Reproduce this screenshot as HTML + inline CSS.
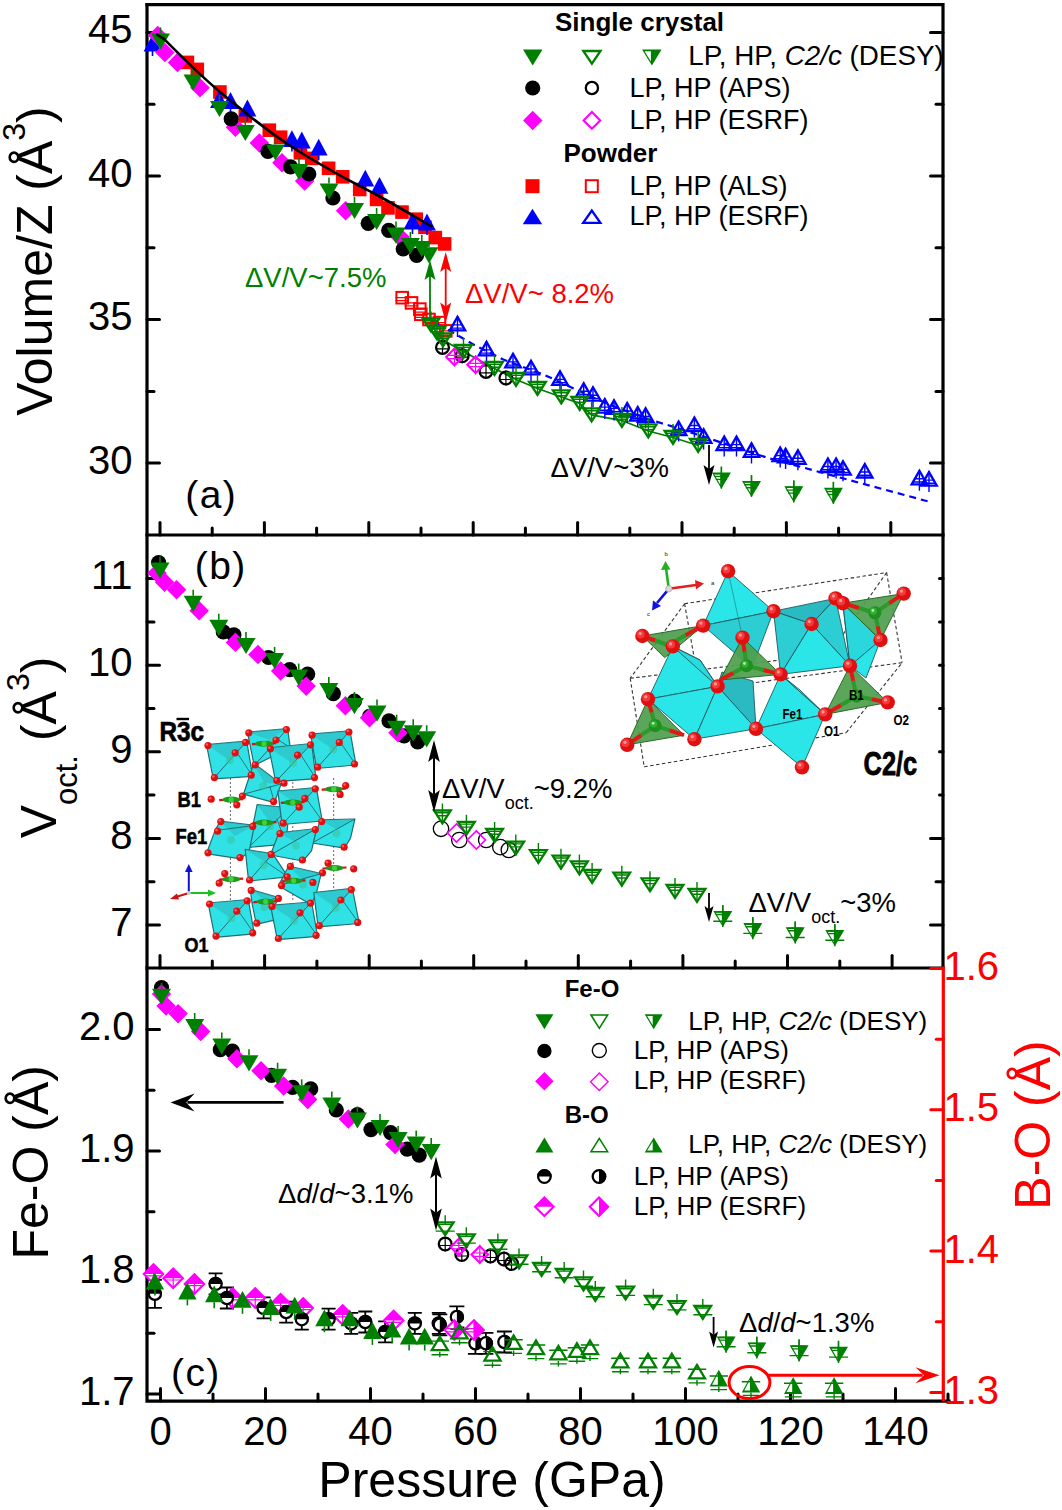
<!DOCTYPE html>
<html><head><meta charset="utf-8"><style>
html,body{margin:0;padding:0;background:#fff;}
body{width:1062px;height:1510px;overflow:hidden;font-family:"Liberation Sans",sans-serif;}
svg{display:block;}
</style></head><body>
<svg width="1062" height="1510" viewBox="0 0 1062 1510" font-family="Liberation Sans, sans-serif">
<rect width="1062" height="1510" fill="#fff"/>
<g stroke="#000000" stroke-width="3.2" fill="none" stroke-linecap="square">
<path d="M147 4.6H943V968"/>
<path d="M147 4.6V1401.2H949"/>
<path d="M147 535H943M147 968H943"/>
</g>
<line x1="943.3" y1="966.5" x2="943.3" y2="1401" stroke="#ff0000" stroke-width="3.2"/>
<line x1="147" y1="32.6" x2="159.5" y2="32.6" stroke="#000000" stroke-width="3" stroke-linecap="round"/><line x1="147" y1="176.1" x2="159.5" y2="176.1" stroke="#000000" stroke-width="3" stroke-linecap="round"/><line x1="147" y1="319.6" x2="159.5" y2="319.6" stroke="#000000" stroke-width="3" stroke-linecap="round"/><line x1="147" y1="463.1" x2="159.5" y2="463.1" stroke="#000000" stroke-width="3" stroke-linecap="round"/>
<line x1="147" y1="104.3" x2="154" y2="104.3" stroke="#000000" stroke-width="3" stroke-linecap="round"/><line x1="147" y1="247.8" x2="154" y2="247.8" stroke="#000000" stroke-width="3" stroke-linecap="round"/><line x1="147" y1="391.4" x2="154" y2="391.4" stroke="#000000" stroke-width="3" stroke-linecap="round"/>
<line x1="943" y1="32.6" x2="930.5" y2="32.6" stroke="#000000" stroke-width="3" stroke-linecap="round"/><line x1="943" y1="176.1" x2="930.5" y2="176.1" stroke="#000000" stroke-width="3" stroke-linecap="round"/><line x1="943" y1="319.6" x2="930.5" y2="319.6" stroke="#000000" stroke-width="3" stroke-linecap="round"/><line x1="943" y1="463.1" x2="930.5" y2="463.1" stroke="#000000" stroke-width="3" stroke-linecap="round"/>
<line x1="943" y1="104.3" x2="936" y2="104.3" stroke="#000000" stroke-width="3" stroke-linecap="round"/><line x1="943" y1="247.8" x2="936" y2="247.8" stroke="#000000" stroke-width="3" stroke-linecap="round"/><line x1="943" y1="391.4" x2="936" y2="391.4" stroke="#000000" stroke-width="3" stroke-linecap="round"/>
<line x1="160" y1="535" x2="160" y2="522.5" stroke="#000000" stroke-width="3" stroke-linecap="round"/><line x1="264.4" y1="535" x2="264.4" y2="522.5" stroke="#000000" stroke-width="3" stroke-linecap="round"/><line x1="368.8" y1="535" x2="368.8" y2="522.5" stroke="#000000" stroke-width="3" stroke-linecap="round"/><line x1="473.2" y1="535" x2="473.2" y2="522.5" stroke="#000000" stroke-width="3" stroke-linecap="round"/><line x1="577.6" y1="535" x2="577.6" y2="522.5" stroke="#000000" stroke-width="3" stroke-linecap="round"/><line x1="682" y1="535" x2="682" y2="522.5" stroke="#000000" stroke-width="3" stroke-linecap="round"/><line x1="786.4" y1="535" x2="786.4" y2="522.5" stroke="#000000" stroke-width="3" stroke-linecap="round"/><line x1="890.8" y1="535" x2="890.8" y2="522.5" stroke="#000000" stroke-width="3" stroke-linecap="round"/>
<line x1="212.2" y1="535" x2="212.2" y2="528" stroke="#000000" stroke-width="3" stroke-linecap="round"/><line x1="316.6" y1="535" x2="316.6" y2="528" stroke="#000000" stroke-width="3" stroke-linecap="round"/><line x1="421" y1="535" x2="421" y2="528" stroke="#000000" stroke-width="3" stroke-linecap="round"/><line x1="525.4" y1="535" x2="525.4" y2="528" stroke="#000000" stroke-width="3" stroke-linecap="round"/><line x1="629.8" y1="535" x2="629.8" y2="528" stroke="#000000" stroke-width="3" stroke-linecap="round"/><line x1="734.2" y1="535" x2="734.2" y2="528" stroke="#000000" stroke-width="3" stroke-linecap="round"/><line x1="838.6" y1="535" x2="838.6" y2="528" stroke="#000000" stroke-width="3" stroke-linecap="round"/>
<line x1="147" y1="578.6" x2="159.5" y2="578.6" stroke="#000000" stroke-width="3" stroke-linecap="round"/><line x1="147" y1="665.2" x2="159.5" y2="665.2" stroke="#000000" stroke-width="3" stroke-linecap="round"/><line x1="147" y1="751.8" x2="159.5" y2="751.8" stroke="#000000" stroke-width="3" stroke-linecap="round"/><line x1="147" y1="838.4" x2="159.5" y2="838.4" stroke="#000000" stroke-width="3" stroke-linecap="round"/><line x1="147" y1="925" x2="159.5" y2="925" stroke="#000000" stroke-width="3" stroke-linecap="round"/>
<line x1="147" y1="621.9" x2="154" y2="621.9" stroke="#000000" stroke-width="3" stroke-linecap="round"/><line x1="147" y1="708.5" x2="154" y2="708.5" stroke="#000000" stroke-width="3" stroke-linecap="round"/><line x1="147" y1="795.1" x2="154" y2="795.1" stroke="#000000" stroke-width="3" stroke-linecap="round"/><line x1="147" y1="881.7" x2="154" y2="881.7" stroke="#000000" stroke-width="3" stroke-linecap="round"/>
<line x1="943" y1="838.4" x2="930.5" y2="838.4" stroke="#000000" stroke-width="3" stroke-linecap="round"/><line x1="943" y1="925" x2="930.5" y2="925" stroke="#000000" stroke-width="3" stroke-linecap="round"/>
<line x1="943" y1="881.7" x2="936" y2="881.7" stroke="#000000" stroke-width="3" stroke-linecap="round"/>
<line x1="943" y1="578.6" x2="939.5" y2="578.6" stroke="#000000" stroke-width="3" stroke-linecap="round"/><line x1="943" y1="621.9" x2="939.5" y2="621.9" stroke="#000000" stroke-width="3" stroke-linecap="round"/><line x1="943" y1="665.2" x2="939.5" y2="665.2" stroke="#000000" stroke-width="3" stroke-linecap="round"/><line x1="943" y1="708.5" x2="939.5" y2="708.5" stroke="#000000" stroke-width="3" stroke-linecap="round"/><line x1="943" y1="751.8" x2="939.5" y2="751.8" stroke="#000000" stroke-width="3" stroke-linecap="round"/><line x1="943" y1="795.1" x2="939.5" y2="795.1" stroke="#000000" stroke-width="3" stroke-linecap="round"/>
<line x1="160" y1="968" x2="160" y2="955.5" stroke="#000000" stroke-width="3" stroke-linecap="round"/><line x1="264.6" y1="968" x2="264.6" y2="955.5" stroke="#000000" stroke-width="3" stroke-linecap="round"/><line x1="369.2" y1="968" x2="369.2" y2="955.5" stroke="#000000" stroke-width="3" stroke-linecap="round"/><line x1="473.7" y1="968" x2="473.7" y2="955.5" stroke="#000000" stroke-width="3" stroke-linecap="round"/><line x1="578.3" y1="968" x2="578.3" y2="955.5" stroke="#000000" stroke-width="3" stroke-linecap="round"/><line x1="682.9" y1="968" x2="682.9" y2="955.5" stroke="#000000" stroke-width="3" stroke-linecap="round"/><line x1="787.5" y1="968" x2="787.5" y2="955.5" stroke="#000000" stroke-width="3" stroke-linecap="round"/><line x1="892.1" y1="968" x2="892.1" y2="955.5" stroke="#000000" stroke-width="3" stroke-linecap="round"/>
<line x1="212.3" y1="968" x2="212.3" y2="961" stroke="#000000" stroke-width="3" stroke-linecap="round"/><line x1="316.9" y1="968" x2="316.9" y2="961" stroke="#000000" stroke-width="3" stroke-linecap="round"/><line x1="421.4" y1="968" x2="421.4" y2="961" stroke="#000000" stroke-width="3" stroke-linecap="round"/><line x1="526" y1="968" x2="526" y2="961" stroke="#000000" stroke-width="3" stroke-linecap="round"/><line x1="630.6" y1="968" x2="630.6" y2="961" stroke="#000000" stroke-width="3" stroke-linecap="round"/><line x1="735.2" y1="968" x2="735.2" y2="961" stroke="#000000" stroke-width="3" stroke-linecap="round"/><line x1="839.8" y1="968" x2="839.8" y2="961" stroke="#000000" stroke-width="3" stroke-linecap="round"/>
<line x1="147" y1="1029.5" x2="159.5" y2="1029.5" stroke="#000000" stroke-width="3" stroke-linecap="round"/><line x1="147" y1="1151" x2="159.5" y2="1151" stroke="#000000" stroke-width="3" stroke-linecap="round"/><line x1="147" y1="1272.5" x2="159.5" y2="1272.5" stroke="#000000" stroke-width="3" stroke-linecap="round"/><line x1="147" y1="1394" x2="159.5" y2="1394" stroke="#000000" stroke-width="3" stroke-linecap="round"/>
<line x1="147" y1="1090.2" x2="154" y2="1090.2" stroke="#000000" stroke-width="3" stroke-linecap="round"/><line x1="147" y1="1211.8" x2="154" y2="1211.8" stroke="#000000" stroke-width="3" stroke-linecap="round"/><line x1="147" y1="1333.2" x2="154" y2="1333.2" stroke="#000000" stroke-width="3" stroke-linecap="round"/>
<line x1="943.3" y1="968.5" x2="930.8" y2="968.5" stroke="#ff0000" stroke-width="3" stroke-linecap="round"/><line x1="943.3" y1="1109.8" x2="930.8" y2="1109.8" stroke="#ff0000" stroke-width="3" stroke-linecap="round"/><line x1="943.3" y1="1251.1" x2="930.8" y2="1251.1" stroke="#ff0000" stroke-width="3" stroke-linecap="round"/><line x1="943.3" y1="1392.4" x2="930.8" y2="1392.4" stroke="#ff0000" stroke-width="3" stroke-linecap="round"/>
<line x1="943.3" y1="1039.2" x2="936.3" y2="1039.2" stroke="#ff0000" stroke-width="3" stroke-linecap="round"/><line x1="943.3" y1="1180.5" x2="936.3" y2="1180.5" stroke="#ff0000" stroke-width="3" stroke-linecap="round"/><line x1="943.3" y1="1321.8" x2="936.3" y2="1321.8" stroke="#ff0000" stroke-width="3" stroke-linecap="round"/>
<line x1="160.5" y1="1401" x2="160.5" y2="1388.5" stroke="#000000" stroke-width="3" stroke-linecap="round"/><line x1="265.5" y1="1401" x2="265.5" y2="1388.5" stroke="#000000" stroke-width="3" stroke-linecap="round"/><line x1="370.5" y1="1401" x2="370.5" y2="1388.5" stroke="#000000" stroke-width="3" stroke-linecap="round"/><line x1="475.5" y1="1401" x2="475.5" y2="1388.5" stroke="#000000" stroke-width="3" stroke-linecap="round"/><line x1="580.5" y1="1401" x2="580.5" y2="1388.5" stroke="#000000" stroke-width="3" stroke-linecap="round"/><line x1="685.5" y1="1401" x2="685.5" y2="1388.5" stroke="#000000" stroke-width="3" stroke-linecap="round"/><line x1="790.5" y1="1401" x2="790.5" y2="1388.5" stroke="#000000" stroke-width="3" stroke-linecap="round"/><line x1="895.5" y1="1401" x2="895.5" y2="1388.5" stroke="#000000" stroke-width="3" stroke-linecap="round"/>
<line x1="213" y1="1401" x2="213" y2="1394" stroke="#000000" stroke-width="3" stroke-linecap="round"/><line x1="318" y1="1401" x2="318" y2="1394" stroke="#000000" stroke-width="3" stroke-linecap="round"/><line x1="423" y1="1401" x2="423" y2="1394" stroke="#000000" stroke-width="3" stroke-linecap="round"/><line x1="528" y1="1401" x2="528" y2="1394" stroke="#000000" stroke-width="3" stroke-linecap="round"/><line x1="633" y1="1401" x2="633" y2="1394" stroke="#000000" stroke-width="3" stroke-linecap="round"/><line x1="738" y1="1401" x2="738" y2="1394" stroke="#000000" stroke-width="3" stroke-linecap="round"/><line x1="843" y1="1401" x2="843" y2="1394" stroke="#000000" stroke-width="3" stroke-linecap="round"/><line x1="948" y1="1401" x2="948" y2="1394" stroke="#000000" stroke-width="3" stroke-linecap="round"/>
<g font-family="Liberation Sans, sans-serif" font-size="40">
<text x="132.5" y="43.4" font-size="40" fill="#000000" text-anchor="end" font-weight="normal" >45</text>
<text x="132.5" y="186.9" font-size="40" fill="#000000" text-anchor="end" font-weight="normal" >40</text>
<text x="132.5" y="330.4" font-size="40" fill="#000000" text-anchor="end" font-weight="normal" >35</text>
<text x="132.5" y="473.9" font-size="40" fill="#000000" text-anchor="end" font-weight="normal" >30</text>
<text x="132.5" y="589.4" font-size="40" fill="#000000" text-anchor="end" font-weight="normal" >11</text>
<text x="132.5" y="676" font-size="40" fill="#000000" text-anchor="end" font-weight="normal" >10</text>
<text x="132.5" y="762.6" font-size="40" fill="#000000" text-anchor="end" font-weight="normal" >9</text>
<text x="132.5" y="849.2" font-size="40" fill="#000000" text-anchor="end" font-weight="normal" >8</text>
<text x="132.5" y="935.8" font-size="40" fill="#000000" text-anchor="end" font-weight="normal" >7</text>
<text x="134.5" y="1040" font-size="40" fill="#000000" text-anchor="end" font-weight="normal" >2.0</text>
<text x="134.5" y="1161.5" font-size="40" fill="#000000" text-anchor="end" font-weight="normal" >1.9</text>
<text x="134.5" y="1283" font-size="40" fill="#000000" text-anchor="end" font-weight="normal" >1.8</text>
<text x="134.5" y="1404.5" font-size="40" fill="#000000" text-anchor="end" font-weight="normal" >1.7</text>
<text x="943.5" y="980" font-size="40" fill="#ff0000" text-anchor="start" font-weight="normal" >1.6</text>
<text x="943.5" y="1121.3" font-size="40" fill="#ff0000" text-anchor="start" font-weight="normal" >1.5</text>
<text x="943.5" y="1262.6" font-size="40" fill="#ff0000" text-anchor="start" font-weight="normal" >1.4</text>
<text x="943.5" y="1403.9" font-size="40" fill="#ff0000" text-anchor="start" font-weight="normal" >1.3</text>
<text x="160.5" y="1445" font-size="40" fill="#000000" text-anchor="middle" font-weight="normal" >0</text>
<text x="265.5" y="1445" font-size="40" fill="#000000" text-anchor="middle" font-weight="normal" >20</text>
<text x="370.5" y="1445" font-size="40" fill="#000000" text-anchor="middle" font-weight="normal" >40</text>
<text x="475.5" y="1445" font-size="40" fill="#000000" text-anchor="middle" font-weight="normal" >60</text>
<text x="580.5" y="1445" font-size="40" fill="#000000" text-anchor="middle" font-weight="normal" >80</text>
<text x="685.5" y="1445" font-size="40" fill="#000000" text-anchor="middle" font-weight="normal" >100</text>
<text x="790.5" y="1445" font-size="40" fill="#000000" text-anchor="middle" font-weight="normal" >120</text>
<text x="895.5" y="1445" font-size="40" fill="#000000" text-anchor="middle" font-weight="normal" >140</text>
</g>
<g font-family="Liberation Sans, sans-serif">
<text transform="translate(51.5,261) rotate(-90)" font-size="50" text-anchor="middle">Volume/Z (Å<tspan dy="-27" font-size="32">3</tspan><tspan dy="27">)</tspan></text>
<text transform="translate(56,747.5) rotate(-90)" font-size="50" text-anchor="middle">V<tspan dy="21" font-size="31">oct.</tspan><tspan dy="-21"> (Å</tspan><tspan dy="-27" font-size="32">3</tspan><tspan dy="27">)</tspan></text>
<text transform="translate(48.3,1162.3) rotate(-90)" font-size="50" text-anchor="middle">Fe-O (Å)</text>
<text transform="translate(1050,1125) rotate(-90)" font-size="50" text-anchor="middle" fill="#ff0000">B-O (Å)</text>
<text x="492" y="1496.5" font-size="50" text-anchor="middle">Pressure (GPa)</text>
</g>
<polyline points="427,318 440,325 474.3,345 503.3,359.5 545.5,375.4 577,390 608.7,404.4 651,420 677.3,428 769,458.3 930.3,502" fill="none" stroke="#0000ff" stroke-width="2.2" stroke-dasharray="7,5"/>
<polyline points="431,325 437,333 443,340 463.5,351.5 494.5,368.5 516,379.5 537.5,388.5 561.3,397 579.7,403.5 591.6,415 621.9,420.5 648.3,431 673,437.5 698.2,445.5" fill="none" stroke="#008000" stroke-width="1.8"/>
<rect x="180.6" y="55.6" width="13.6" height="13.6" fill="#ff0000"/>
<rect x="190.5" y="62.6" width="13.6" height="13.6" fill="#ff0000"/>
<rect x="213.1" y="85.2" width="13.6" height="13.6" fill="#ff0000"/>
<rect x="238.5" y="109.2" width="13.6" height="13.6" fill="#ff0000"/>
<rect x="262.5" y="123.4" width="13.6" height="13.6" fill="#ff0000"/>
<rect x="273.8" y="130.4" width="13.6" height="13.6" fill="#ff0000"/>
<rect x="293.6" y="146" width="13.6" height="13.6" fill="#ff0000"/>
<rect x="304.9" y="151.6" width="13.6" height="13.6" fill="#ff0000"/>
<rect x="321.8" y="161.5" width="13.6" height="13.6" fill="#ff0000"/>
<rect x="335.9" y="170" width="13.6" height="13.6" fill="#ff0000"/>
<rect x="352.9" y="182.7" width="13.6" height="13.6" fill="#ff0000"/>
<rect x="369.8" y="192.6" width="13.6" height="13.6" fill="#ff0000"/>
<rect x="381.2" y="201.1" width="13.6" height="13.6" fill="#ff0000"/>
<rect x="395.2" y="205.3" width="13.6" height="13.6" fill="#ff0000"/>
<rect x="409.4" y="212.4" width="13.6" height="13.6" fill="#ff0000"/>
<rect x="418.2" y="220.5" width="13.6" height="13.6" fill="#ff0000"/>
<rect x="428.5" y="230.8" width="13.6" height="13.6" fill="#ff0000"/>
<rect x="437.8" y="237.1" width="13.6" height="13.6" fill="#ff0000"/>
<polygon points="143.6,51.4 161.4,51.4 152.5,34.6" fill="#0000ff"/><line x1="152.5" y1="51" x2="152.5" y2="56" stroke="#0000ff" stroke-width="1.6"/>
<polygon points="210.1,107.9 227.9,107.9 219,91.1" fill="#0000ff"/><line x1="219" y1="107.5" x2="219" y2="112.5" stroke="#0000ff" stroke-width="1.6"/>
<polygon points="221.6,108.9 239.4,108.9 230.5,92.1" fill="#0000ff"/><line x1="230.5" y1="108.5" x2="230.5" y2="113.5" stroke="#0000ff" stroke-width="1.6"/>
<polygon points="238.5,116.4 256.3,116.4 247.4,99.6" fill="#0000ff"/><line x1="247.4" y1="116" x2="247.4" y2="121" stroke="#0000ff" stroke-width="1.6"/>
<polygon points="283,147 300.8,147 291.9,130.2" fill="#0000ff"/><line x1="291.9" y1="146.6" x2="291.9" y2="151.6" stroke="#0000ff" stroke-width="1.6"/>
<polygon points="292.9,148.4 310.7,148.4 301.8,131.6" fill="#0000ff"/><line x1="301.8" y1="148" x2="301.8" y2="153" stroke="#0000ff" stroke-width="1.6"/>
<polygon points="309.8,155.5 327.6,155.5 318.7,138.7" fill="#0000ff"/><line x1="318.7" y1="155.1" x2="318.7" y2="160.1" stroke="#0000ff" stroke-width="1.6"/>
<polygon points="356.4,186.6 374.2,186.6 365.3,169.8" fill="#0000ff"/><line x1="365.3" y1="186.2" x2="365.3" y2="191.2" stroke="#0000ff" stroke-width="1.6"/>
<polygon points="370.6,193.7 388.4,193.7 379.5,176.9" fill="#0000ff"/><line x1="379.5" y1="193.3" x2="379.5" y2="198.3" stroke="#0000ff" stroke-width="1.6"/>
<polygon points="403.6,229.4 421.4,229.4 412.5,212.6" fill="#0000ff"/><line x1="412.5" y1="229" x2="412.5" y2="234" stroke="#0000ff" stroke-width="1.6"/>
<polygon points="418.1,230.4 435.9,230.4 427,213.6" fill="#0000ff"/><line x1="427" y1="230" x2="427" y2="235" stroke="#0000ff" stroke-width="1.6"/>
<polygon points="157.7,25.8 167.4,35.5 157.7,45.2 147.9,35.5" fill="#ff00ff"/>
<polygon points="164.8,42.8 174.6,52.5 164.8,62.2 155.1,52.5" fill="#ff00ff"/>
<polygon points="177.5,52.6 187.2,62.4 177.5,72.2 167.8,62.4" fill="#ff00ff"/>
<polygon points="200,78 209.8,87.8 200,97.5 190.2,87.8" fill="#ff00ff"/>
<polygon points="235.4,117.5 245.2,127.3 235.4,137.1 225.7,127.3" fill="#ff00ff"/>
<polygon points="259.4,133.2 269.1,142.9 259.4,152.7 249.6,142.9" fill="#ff00ff"/>
<polygon points="282,152.9 291.8,162.7 282,172.4 272.2,162.7" fill="#ff00ff"/>
<polygon points="304.6,171.2 314.4,181 304.6,190.8 294.9,181" fill="#ff00ff"/>
<polygon points="345.6,200.9 355.4,210.7 345.6,220.4 335.9,210.7" fill="#ff00ff"/>
<polygon points="400,227.2 409.8,237 400,246.8 390.2,237" fill="#ff00ff"/>
<circle cx="231.2" cy="118.9" r="7.6" fill="#000000"/>
<circle cx="267.9" cy="151.4" r="7.6" fill="#000000"/>
<circle cx="290.5" cy="166.9" r="7.6" fill="#000000"/>
<circle cx="308.8" cy="174" r="7.6" fill="#000000"/>
<circle cx="332.9" cy="198" r="7.6" fill="#000000"/>
<circle cx="368.2" cy="223.4" r="7.6" fill="#000000"/>
<circle cx="388.7" cy="230.4" r="7.6" fill="#000000"/>
<circle cx="403.2" cy="249" r="7.6" fill="#000000"/>
<circle cx="416.6" cy="255.3" r="7.6" fill="#000000"/>
<polygon points="151,33.4 170,33.4 160.5,49.6" fill="#008000"/><line x1="160.5" y1="33.4" x2="160.5" y2="27.4" stroke="#008000" stroke-width="1.6"/>
<polygon points="183.5,74.4 202.5,74.4 193,90.6" fill="#008000"/><line x1="193" y1="74.4" x2="193" y2="68.4" stroke="#008000" stroke-width="1.6"/>
<polygon points="210,100.9 229,100.9 219.5,117.1" fill="#008000"/><line x1="219.5" y1="100.9" x2="219.5" y2="94.9" stroke="#008000" stroke-width="1.6"/>
<polygon points="235.8,124.9 254.8,124.9 245.3,141.1" fill="#008000"/><line x1="245.3" y1="124.9" x2="245.3" y2="118.9" stroke="#008000" stroke-width="1.6"/>
<polygon points="265.9,144.4 284.9,144.4 275.4,160.6" fill="#008000"/><line x1="275.4" y1="144.4" x2="275.4" y2="138.4" stroke="#008000" stroke-width="1.6"/>
<polygon points="289.5,163.9 308.5,163.9 299,180.1" fill="#008000"/><line x1="299" y1="163.9" x2="299" y2="157.9" stroke="#008000" stroke-width="1.6"/>
<polygon points="319.5,183.4 338.5,183.4 329,199.6" fill="#008000"/><line x1="329" y1="183.4" x2="329" y2="177.4" stroke="#008000" stroke-width="1.6"/>
<polygon points="345,202.9 364,202.9 354.5,219.1" fill="#008000"/><line x1="354.5" y1="202.9" x2="354.5" y2="196.9" stroke="#008000" stroke-width="1.6"/>
<polygon points="367.1,213.9 386.1,213.9 376.6,230.1" fill="#008000"/><line x1="376.6" y1="213.9" x2="376.6" y2="207.9" stroke="#008000" stroke-width="1.6"/>
<polygon points="386.5,227.5 405.5,227.5 396,243.7" fill="#008000"/><line x1="396" y1="227.5" x2="396" y2="221.5" stroke="#008000" stroke-width="1.6"/>
<polygon points="400.9,237.9 419.9,237.9 410.4,254.1" fill="#008000"/><line x1="410.4" y1="237.9" x2="410.4" y2="231.9" stroke="#008000" stroke-width="1.6"/>
<polygon points="412.3,240.9 431.3,240.9 421.8,257.1" fill="#008000"/><line x1="421.8" y1="240.9" x2="421.8" y2="234.9" stroke="#008000" stroke-width="1.6"/>
<polygon points="419.5,247.2 438.5,247.2 429,263.4" fill="#008000"/><line x1="429" y1="247.2" x2="429" y2="241.2" stroke="#008000" stroke-width="1.6"/>
<path d="M156.3 34.1 L164.1 39.1 C180 55 190 65 206.5 80.1 S235 104 248.9 115.4 S275 136 291.2 146.5 S318 163 333.6 171.9 S360 186 376 194.5 S410 214 432.5 227" fill="none" stroke="#000000" stroke-width="2.6"/>
<path d="M395.4 297.7H409M395.4 300.7H409" stroke="#ff0000" stroke-width="1.3" fill="none"/><rect x="396.4" y="291.9" width="11.6" height="11.6" fill="none" stroke="#ff0000" stroke-width="2.0"/>
<path d="M404.7 302.9H418.3M404.7 305.9H418.3" stroke="#ff0000" stroke-width="1.3" fill="none"/><rect x="405.7" y="297.1" width="11.6" height="11.6" fill="none" stroke="#ff0000" stroke-width="2.0"/>
<path d="M413 309.1H426.6M413 312.1H426.6" stroke="#ff0000" stroke-width="1.3" fill="none"/><rect x="414" y="303.3" width="11.6" height="11.6" fill="none" stroke="#ff0000" stroke-width="2.0"/>
<path d="M414 314.3H427.6M414 317.3H427.6" stroke="#ff0000" stroke-width="1.3" fill="none"/><rect x="415" y="308.5" width="11.6" height="11.6" fill="none" stroke="#ff0000" stroke-width="2.0"/>
<path d="M422.2 319.5H435.8M422.2 322.5H435.8" stroke="#ff0000" stroke-width="1.3" fill="none"/><rect x="423.2" y="313.7" width="11.6" height="11.6" fill="none" stroke="#ff0000" stroke-width="2.0"/>
<path d="M432.6 322.6H446.2M432.6 325.6H446.2" stroke="#ff0000" stroke-width="1.3" fill="none"/><rect x="433.6" y="316.8" width="11.6" height="11.6" fill="none" stroke="#ff0000" stroke-width="2.0"/>
<path d="M438.9 330.9H452.5M438.9 333.9H452.5" stroke="#ff0000" stroke-width="1.3" fill="none"/><rect x="439.9" y="325.1" width="11.6" height="11.6" fill="none" stroke="#ff0000" stroke-width="2.0"/>
<path d="M435.9 348.9H449.1M442.5 339.8V355" stroke="#000000" stroke-width="1.2" fill="none"/><circle cx="442.5" cy="347.4" r="6.4" fill="none" stroke="#000000" stroke-width="2.3"/>
<path d="M455.6 357.2H468.8M462.2 348.1V363.3" stroke="#000000" stroke-width="1.2" fill="none"/><circle cx="462.2" cy="355.7" r="6.4" fill="none" stroke="#000000" stroke-width="2.3"/>
<path d="M479.4 372.9H492.6M486 363.8V379" stroke="#000000" stroke-width="1.2" fill="none"/><circle cx="486" cy="371.4" r="6.4" fill="none" stroke="#000000" stroke-width="2.3"/>
<path d="M499.3 379.5H512.5M505.9 370.4V385.6" stroke="#000000" stroke-width="1.2" fill="none"/><circle cx="505.9" cy="378" r="6.4" fill="none" stroke="#000000" stroke-width="2.3"/>
<path d="M447.2 355.4H461.8M447.2 358.7H461.8M454.5 347.1V366.6" stroke="#ff00ff" stroke-width="1.2" fill="none"/><polygon points="454.5,348.6 462.8,356.9 454.5,365.2 446.2,356.9" fill="none" stroke="#ff00ff" stroke-width="2.1"/>
<path d="M468.4 363.3H482.9M468.4 366.6H482.9M475.6 355.1V374.6" stroke="#ff00ff" stroke-width="1.2" fill="none"/><polygon points="475.6,356.5 483.9,364.8 475.6,373.1 467.3,364.8" fill="none" stroke="#ff00ff" stroke-width="2.1"/>
<path d="M457.5 316.1V336.9M452.2 324.9H462.8M450.7 328.1H464.3" stroke="#0000ff" stroke-width="1.4" fill="none"/><polygon points="449.8,330.4 465.2,330.4 457.5,316.9" fill="none" stroke="#0000ff" stroke-width="2.3"/>
<path d="M486.5 341.1V361.9M481.2 349.9H491.8M479.7 353.1H493.3" stroke="#0000ff" stroke-width="1.4" fill="none"/><polygon points="478.8,355.4 494.2,355.4 486.5,341.9" fill="none" stroke="#0000ff" stroke-width="2.3"/>
<path d="M513 353.1V373.9M507.7 361.9H518.3M506.2 365.1H519.8" stroke="#0000ff" stroke-width="1.4" fill="none"/><polygon points="505.2,367.4 520.8,367.4 513,353.9" fill="none" stroke="#0000ff" stroke-width="2.3"/>
<path d="M531 360.1V380.9M525.7 368.9H536.3M524.2 372.1H537.8" stroke="#0000ff" stroke-width="1.4" fill="none"/><polygon points="523.2,374.4 538.8,374.4 531,360.9" fill="none" stroke="#0000ff" stroke-width="2.3"/>
<path d="M560 370.6V391.4M554.7 379.4H565.3M553.2 382.6H566.8" stroke="#0000ff" stroke-width="1.4" fill="none"/><polygon points="552.2,384.9 567.8,384.9 560,371.4" fill="none" stroke="#0000ff" stroke-width="2.3"/>
<path d="M583.7 382.5V403.3M578.4 391.3H589M576.9 394.5H590.5" stroke="#0000ff" stroke-width="1.4" fill="none"/><polygon points="576,396.8 591.5,396.8 583.7,383.3" fill="none" stroke="#0000ff" stroke-width="2.3"/>
<path d="M593 386.4V407.2M587.7 395.2H598.3M586.2 398.4H599.8" stroke="#0000ff" stroke-width="1.4" fill="none"/><polygon points="585.2,400.7 600.8,400.7 593,387.2" fill="none" stroke="#0000ff" stroke-width="2.3"/>
<path d="M604.8 398.3V419.1M599.5 407.1H610.1M598 410.3H611.6" stroke="#0000ff" stroke-width="1.4" fill="none"/><polygon points="597,412.6 612.5,412.6 604.8,399.1" fill="none" stroke="#0000ff" stroke-width="2.3"/>
<path d="M614 399.6V420.4M608.7 408.4H619.3M607.2 411.6H620.8" stroke="#0000ff" stroke-width="1.4" fill="none"/><polygon points="606.2,413.9 621.8,413.9 614,400.4" fill="none" stroke="#0000ff" stroke-width="2.3"/>
<path d="M627.2 402.2V423M621.9 411H632.5M620.4 414.2H634" stroke="#0000ff" stroke-width="1.4" fill="none"/><polygon points="619.5,416.5 635,416.5 627.2,403" fill="none" stroke="#0000ff" stroke-width="2.3"/>
<path d="M637.7 406.2V427M632.4 415H643M630.9 418.2H644.5" stroke="#0000ff" stroke-width="1.4" fill="none"/><polygon points="630,420.5 645.5,420.5 637.7,407" fill="none" stroke="#0000ff" stroke-width="2.3"/>
<path d="M645.6 407.6V428.4M640.3 416.4H650.9M638.8 419.6H652.4" stroke="#0000ff" stroke-width="1.4" fill="none"/><polygon points="637.9,421.9 653.4,421.9 645.6,408.4" fill="none" stroke="#0000ff" stroke-width="2.3"/>
<path d="M678.6 420.7V441.5M673.3 429.5H683.9M671.8 432.7H685.4" stroke="#0000ff" stroke-width="1.4" fill="none"/><polygon points="670.9,435 686.4,435 678.6,421.5" fill="none" stroke="#0000ff" stroke-width="2.3"/>
<path d="M694.4 416.7V437.5M689.1 425.5H699.7M687.6 428.7H701.2" stroke="#0000ff" stroke-width="1.4" fill="none"/><polygon points="686.6,431 702.1,431 694.4,417.5" fill="none" stroke="#0000ff" stroke-width="2.3"/>
<path d="M703.6 428.6V449.4M698.3 437.4H708.9M696.8 440.6H710.4" stroke="#0000ff" stroke-width="1.4" fill="none"/><polygon points="695.9,442.9 711.4,442.9 703.6,429.4" fill="none" stroke="#0000ff" stroke-width="2.3"/>
<path d="M724.2 435.8V456.6M718.9 444.6H729.5M717.4 447.8H731" stroke="#0000ff" stroke-width="1.4" fill="none"/><polygon points="716.5,450.1 732,450.1 724.2,436.6" fill="none" stroke="#0000ff" stroke-width="2.3"/>
<path d="M736.5 435.8V456.6M731.2 444.6H741.8M729.7 447.8H743.3" stroke="#0000ff" stroke-width="1.4" fill="none"/><polygon points="728.8,450.1 744.2,450.1 736.5,436.6" fill="none" stroke="#0000ff" stroke-width="2.3"/>
<path d="M751.5 442.6V463.4M746.2 451.4H756.8M744.7 454.6H758.3" stroke="#0000ff" stroke-width="1.4" fill="none"/><polygon points="743.8,456.9 759.2,456.9 751.5,443.4" fill="none" stroke="#0000ff" stroke-width="2.3"/>
<path d="M780.2 446.8V467.6M774.9 455.6H785.5M773.4 458.8H787" stroke="#0000ff" stroke-width="1.4" fill="none"/><polygon points="772.5,461.1 788,461.1 780.2,447.6" fill="none" stroke="#0000ff" stroke-width="2.3"/>
<path d="M785.6 448.1V468.9M780.3 456.9H790.9M778.8 460.1H792.4" stroke="#0000ff" stroke-width="1.4" fill="none"/><polygon points="777.9,462.4 793.4,462.4 785.6,448.9" fill="none" stroke="#0000ff" stroke-width="2.3"/>
<path d="M797.9 449.5V470.3M792.6 458.3H803.2M791.1 461.5H804.7" stroke="#0000ff" stroke-width="1.4" fill="none"/><polygon points="790.1,463.8 805.6,463.8 797.9,450.3" fill="none" stroke="#0000ff" stroke-width="2.3"/>
<path d="M827.9 457.7V478.5M822.6 466.5H833.2M821.1 469.7H834.7" stroke="#0000ff" stroke-width="1.4" fill="none"/><polygon points="820.1,472 835.6,472 827.9,458.5" fill="none" stroke="#0000ff" stroke-width="2.3"/>
<path d="M836.1 457.7V478.5M830.8 466.5H841.4M829.3 469.7H842.9" stroke="#0000ff" stroke-width="1.4" fill="none"/><polygon points="828.4,472 843.9,472 836.1,458.5" fill="none" stroke="#0000ff" stroke-width="2.3"/>
<path d="M843 460.4V481.2M837.7 469.2H848.3M836.2 472.4H849.8" stroke="#0000ff" stroke-width="1.4" fill="none"/><polygon points="835.2,474.7 850.8,474.7 843,461.2" fill="none" stroke="#0000ff" stroke-width="2.3"/>
<path d="M864.8 463.2V484M859.5 472H870.1M858 475.2H871.6" stroke="#0000ff" stroke-width="1.4" fill="none"/><polygon points="857,477.5 872.5,477.5 864.8,464" fill="none" stroke="#0000ff" stroke-width="2.3"/>
<path d="M919.4 470V490.8M914.1 478.8H924.7M912.6 482H926.2" stroke="#0000ff" stroke-width="1.4" fill="none"/><polygon points="911.6,484.3 927.1,484.3 919.4,470.8" fill="none" stroke="#0000ff" stroke-width="2.3"/>
<path d="M929 471.3V492.1M923.7 480.1H934.3M922.2 483.3H935.8" stroke="#0000ff" stroke-width="1.4" fill="none"/><polygon points="921.2,485.6 936.8,485.6 929,472.1" fill="none" stroke="#0000ff" stroke-width="2.3"/>
<path d="M431 311.4V332.1M423.8 320.7H438.2M425.3 323.7H436.7" stroke="#008000" stroke-width="1.4" fill="none"/><polygon points="422.6,318.4 439.4,318.4 431,331.3" fill="none" stroke="#008000" stroke-width="2.3" stroke-linejoin="miter"/>
<path d="M437 319.4V340.1M429.8 328.7H444.2M431.3 331.7H442.7" stroke="#008000" stroke-width="1.4" fill="none"/><polygon points="428.6,326.4 445.4,326.4 437,339.3" fill="none" stroke="#008000" stroke-width="2.3" stroke-linejoin="miter"/>
<path d="M443 326.4V347.1M435.8 335.7H450.2M437.3 338.7H448.7" stroke="#008000" stroke-width="1.4" fill="none"/><polygon points="434.6,333.4 451.4,333.4 443,346.3" fill="none" stroke="#008000" stroke-width="2.3" stroke-linejoin="miter"/>
<path d="M463.5 337.9V358.6M456.3 347.2H470.7M457.8 350.2H469.2" stroke="#008000" stroke-width="1.4" fill="none"/><polygon points="455.1,344.9 471.9,344.9 463.5,357.8" fill="none" stroke="#008000" stroke-width="2.3" stroke-linejoin="miter"/>
<path d="M494.5 354.9V375.6M487.3 364.2H501.7M488.8 367.2H500.2" stroke="#008000" stroke-width="1.4" fill="none"/><polygon points="486.1,361.9 502.9,361.9 494.5,374.8" fill="none" stroke="#008000" stroke-width="2.3" stroke-linejoin="miter"/>
<path d="M516 365.9V386.6M508.8 375.2H523.2M510.3 378.2H521.7" stroke="#008000" stroke-width="1.4" fill="none"/><polygon points="507.6,372.9 524.4,372.9 516,385.8" fill="none" stroke="#008000" stroke-width="2.3" stroke-linejoin="miter"/>
<path d="M537.5 374.9V395.6M530.3 384.2H544.7M531.8 387.2H543.2" stroke="#008000" stroke-width="1.4" fill="none"/><polygon points="529.1,381.9 545.9,381.9 537.5,394.8" fill="none" stroke="#008000" stroke-width="2.3" stroke-linejoin="miter"/>
<path d="M561.3 383.4V404.1M554.1 392.7H568.5M555.6 395.7H567" stroke="#008000" stroke-width="1.4" fill="none"/><polygon points="552.9,390.4 569.6,390.4 561.3,403.3" fill="none" stroke="#008000" stroke-width="2.3" stroke-linejoin="miter"/>
<path d="M579.7 389.9V410.6M572.5 399.2H586.9M574 402.2H585.4" stroke="#008000" stroke-width="1.4" fill="none"/><polygon points="571.4,396.9 588.1,396.9 579.7,409.8" fill="none" stroke="#008000" stroke-width="2.3" stroke-linejoin="miter"/>
<path d="M591.6 401.4V422.1M584.4 410.7H598.8M585.9 413.7H597.3" stroke="#008000" stroke-width="1.4" fill="none"/><polygon points="583.2,408.4 600,408.4 591.6,421.3" fill="none" stroke="#008000" stroke-width="2.3" stroke-linejoin="miter"/>
<path d="M621.9 406.9V427.6M614.7 416.2H629.1M616.2 419.2H627.6" stroke="#008000" stroke-width="1.4" fill="none"/><polygon points="613.5,413.9 630.2,413.9 621.9,426.8" fill="none" stroke="#008000" stroke-width="2.3" stroke-linejoin="miter"/>
<path d="M648.3 417.4V438.1M641.1 426.7H655.5M642.6 429.7H654" stroke="#008000" stroke-width="1.4" fill="none"/><polygon points="639.9,424.4 656.6,424.4 648.3,437.3" fill="none" stroke="#008000" stroke-width="2.3" stroke-linejoin="miter"/>
<path d="M673 423.9V444.6M665.8 433.2H680.2M667.3 436.2H678.7" stroke="#008000" stroke-width="1.4" fill="none"/><polygon points="664.6,430.9 681.4,430.9 673,443.8" fill="none" stroke="#008000" stroke-width="2.3" stroke-linejoin="miter"/>
<path d="M698.2 431.9V452.6M691 441.2H705.4M692.5 444.2H703.9" stroke="#008000" stroke-width="1.4" fill="none"/><polygon points="689.9,438.9 706.6,438.9 698.2,451.8" fill="none" stroke="#008000" stroke-width="2.3" stroke-linejoin="miter"/>
<polygon points="711.9,472.6 730.9,472.6 721.4,488.8" fill="#008000"/><polygon points="714.4,474.4 720.4,474.4 720.4,484.8" fill="#fff"/><path d="M721.4 467.1V487.8M714.2 476.4H728.6M715.7 479.4H727.1" stroke="#008000" stroke-width="1.4" fill="none"/><path d="M721.4 466.6V488.8M714.4 473.6H728.4" stroke="#008000" stroke-width="1.4" fill="none"/>
<polygon points="742,480.9 761,480.9 751.5,497.1" fill="#008000"/><polygon points="744.5,482.7 750.5,482.7 750.5,493.1" fill="#fff"/><path d="M751.5 475.4V496.1M744.3 484.7H758.7M745.8 487.7H757.2" stroke="#008000" stroke-width="1.4" fill="none"/><path d="M751.5 474.9V497.1M744.5 481.9H758.5" stroke="#008000" stroke-width="1.4" fill="none"/>
<polygon points="784.3,486.3 803.3,486.3 793.8,502.5" fill="#008000"/><polygon points="786.8,488.1 792.8,488.1 792.8,498.5" fill="#fff"/><path d="M793.8 480.8V501.5M786.6 490.1H801M788.1 493.1H799.5" stroke="#008000" stroke-width="1.4" fill="none"/><path d="M793.8 480.3V502.5M786.8 487.3H800.8" stroke="#008000" stroke-width="1.4" fill="none"/>
<polygon points="823.9,487.7 842.9,487.7 833.4,503.9" fill="#008000"/><polygon points="826.4,489.5 832.4,489.5 832.4,499.9" fill="#fff"/><path d="M833.4 482.2V502.9M826.2 491.5H840.6M827.7 494.5H839.1" stroke="#008000" stroke-width="1.4" fill="none"/><path d="M833.4 481.7V503.9M826.4 488.7H840.4" stroke="#008000" stroke-width="1.4" fill="none"/>
<line x1="430" y1="276" x2="430" y2="318.5" stroke="#008000" stroke-width="1.8" /><polygon points="430,260 435.5,280 430,276 424.5,280" fill="#008000"/>
<line x1="445.7" y1="268" x2="445.7" y2="306.6" stroke="#ff0000" stroke-width="1.8" /><polygon points="445.7,252 451.2,272 445.7,268 440.2,272" fill="#ff0000"/><polygon points="445.7,322.6 451.2,302.6 445.7,306.6 440.2,302.6" fill="#ff0000"/>
<line x1="709" y1="445" x2="709" y2="469" stroke="#000000" stroke-width="1.8" /><polygon points="709,485 714.5,465 709,469 703.5,465" fill="#000000"/>
<g font-family="Liberation Sans, sans-serif">
<text x="245" y="286.7" font-size="27.5" fill="#008000" text-anchor="start" font-weight="normal" >ΔV/V~7.5%</text>
<text x="465" y="303.2" font-size="27.5" fill="#ff0000" text-anchor="start" font-weight="normal" >ΔV/V~ 8.2%</text>
<text x="550.5" y="477.3" font-size="27.5" fill="#000000" text-anchor="start" font-weight="normal" >ΔV/V~3%</text>
<text x="185.3" y="508" font-size="39" fill="#000000" text-anchor="start" font-weight="normal" letter-spacing="1.4">(a)</text>
</g>
<g font-family="Liberation Sans, sans-serif">
<text x="555" y="30.5" font-size="26" fill="#000000" text-anchor="start" font-weight="bold" >Single crystal</text>
<polygon points="523,49.5 542.5,49.5 532.7,65.5" fill="#008000"/>
<polygon points="583.3,51 600.5,51 591.9,63.7" fill="none" stroke="#008000" stroke-width="2.3" stroke-linejoin="miter"/>
<polygon points="642.1,49.5 661.6,49.5 651.9,65.5" fill="#008000"/><polygon points="644.6,51.3 650.9,51.3 650.9,61.5" fill="#fff"/>
<text x="688.3" y="65" font-size="27.8" fill="#000000" text-anchor="start" font-weight="normal" >LP, HP, <tspan font-style="italic">C2/c</tspan> (DESY)</text>
<circle cx="532.7" cy="88" r="7.6" fill="#000000"/>
<circle cx="591.9" cy="88" r="6.1" fill="none" stroke="#000000" stroke-width="2.3"/>
<text x="629.5" y="96.5" font-size="27" fill="#000000" text-anchor="start" font-weight="normal" >LP, HP (APS)</text>
<polygon points="532.7,110.7 542.5,120.4 532.7,130.2 523,120.4" fill="#ff00ff"/>
<polygon points="591.9,112.1 600.2,120.4 591.9,128.7 583.6,120.4" fill="none" stroke="#ff00ff" stroke-width="2.1"/>
<text x="629.5" y="129.3" font-size="27" fill="#000000" text-anchor="start" font-weight="normal" >LP, HP (ESRF)</text>
<text x="563.5" y="161.5" font-size="26" fill="#000000" text-anchor="start" font-weight="bold" >Powder</text>
<rect x="525.5" y="179.2" width="14" height="14" fill="#ff0000"/>
<rect x="585.8" y="180.2" width="12" height="12" fill="none" stroke="#ff0000" stroke-width="2.0"/>
<text x="629.5" y="195" font-size="27" fill="#000000" text-anchor="start" font-weight="normal" >LP, HP (ALS)</text>
<polygon points="522.8,224.3 542.2,224.3 532.5,208.7" fill="#0000ff"/>
<polygon points="583.2,222.8 600.4,222.8 591.8,210.5" fill="none" stroke="#0000ff" stroke-width="2.3"/>
<text x="629.5" y="225.3" font-size="27" fill="#000000" text-anchor="start" font-weight="normal" >LP, HP (ESRF)</text>
</g>
<circle cx="158.6" cy="562.6" r="7.6" fill="#000000"/>
<circle cx="223.3" cy="631.9" r="7.6" fill="#000000"/>
<circle cx="233.9" cy="634.9" r="7.6" fill="#000000"/>
<circle cx="268.5" cy="657.5" r="7.6" fill="#000000"/>
<circle cx="289.6" cy="669.6" r="7.6" fill="#000000"/>
<circle cx="307.7" cy="674.1" r="7.6" fill="#000000"/>
<circle cx="333.3" cy="693.7" r="7.6" fill="#000000"/>
<circle cx="354.4" cy="701.2" r="7.6" fill="#000000"/>
<circle cx="369.5" cy="716.3" r="7.6" fill="#000000"/>
<circle cx="389" cy="720.8" r="7.6" fill="#000000"/>
<circle cx="404.1" cy="735.8" r="7.6" fill="#000000"/>
<circle cx="417.7" cy="741.9" r="7.6" fill="#000000"/>
<polygon points="157,563.2 166.8,573 157,582.8 147.2,573" fill="#ff00ff"/>
<polygon points="164.6,572.5 174.3,582.2 164.6,592 154.8,582.2" fill="#ff00ff"/>
<polygon points="176.6,580 186.3,589.7 176.6,599.5 166.8,589.7" fill="#ff00ff"/>
<polygon points="199.2,601 208.9,610.8 199.2,620.5 189.4,610.8" fill="#ff00ff"/>
<polygon points="235.4,632.6 245.2,642.4 235.4,652.1 225.7,642.4" fill="#ff00ff"/>
<polygon points="258,644.8 267.8,654.5 258,664.2 248.2,654.5" fill="#ff00ff"/>
<polygon points="280.6,661.2 290.4,671 280.6,680.8 270.9,671" fill="#ff00ff"/>
<polygon points="306.2,676.4 315.9,686.1 306.2,695.9 296.4,686.1" fill="#ff00ff"/>
<polygon points="345.4,696 355.1,705.7 345.4,715.5 335.6,705.7" fill="#ff00ff"/>
<polygon points="369.5,708 379.2,717.8 369.5,727.5 359.8,717.8" fill="#ff00ff"/>
<polygon points="398,723 407.8,732.8 398,742.5 388.2,732.8" fill="#ff00ff"/>
<polygon points="150.5,562.5 169.5,562.5 160,578.7" fill="#008000"/><line x1="160" y1="562.5" x2="160" y2="556.5" stroke="#008000" stroke-width="1.6"/>
<polygon points="183.7,595.7 202.7,595.7 193.2,611.9" fill="#008000"/><line x1="193.2" y1="595.7" x2="193.2" y2="589.7" stroke="#008000" stroke-width="1.6"/>
<polygon points="209.3,619.8 228.3,619.8 218.8,636" fill="#008000"/><line x1="218.8" y1="619.8" x2="218.8" y2="613.8" stroke="#008000" stroke-width="1.6"/>
<polygon points="236.5,637.9 255.5,637.9 246,654.1" fill="#008000"/><line x1="246" y1="637.9" x2="246" y2="631.9" stroke="#008000" stroke-width="1.6"/>
<polygon points="265.1,652.9 284.1,652.9 274.6,669.1" fill="#008000"/><line x1="274.6" y1="652.9" x2="274.6" y2="646.9" stroke="#008000" stroke-width="1.6"/>
<polygon points="289.2,669.5 308.2,669.5 298.7,685.7" fill="#008000"/><line x1="298.7" y1="669.5" x2="298.7" y2="663.5" stroke="#008000" stroke-width="1.6"/>
<polygon points="319.3,683 338.3,683 328.8,699.2" fill="#008000"/><line x1="328.8" y1="683" x2="328.8" y2="677" stroke="#008000" stroke-width="1.6"/>
<polygon points="344.9,698.1 363.9,698.1 354.4,714.3" fill="#008000"/><line x1="354.4" y1="698.1" x2="354.4" y2="692.1" stroke="#008000" stroke-width="1.6"/>
<polygon points="367.5,705.6 386.5,705.6 377,721.8" fill="#008000"/><line x1="377" y1="705.6" x2="377" y2="699.6" stroke="#008000" stroke-width="1.6"/>
<polygon points="387.1,720.7 406.1,720.7 396.6,736.9" fill="#008000"/><line x1="396.6" y1="720.7" x2="396.6" y2="714.7" stroke="#008000" stroke-width="1.6"/>
<polygon points="403.7,725.2 422.7,725.2 413.2,741.4" fill="#008000"/><line x1="413.2" y1="725.2" x2="413.2" y2="719.2" stroke="#008000" stroke-width="1.6"/>
<polygon points="417.2,731.2 436.2,731.2 426.7,747.4" fill="#008000"/><line x1="426.7" y1="731.2" x2="426.7" y2="725.2" stroke="#008000" stroke-width="1.6"/>
<circle cx="441" cy="828.8" r="7.7" fill="none" stroke="#000000" stroke-width="1.3"/>
<circle cx="459.3" cy="840" r="7.7" fill="none" stroke="#000000" stroke-width="1.3"/>
<circle cx="486.2" cy="840" r="7.7" fill="none" stroke="#000000" stroke-width="1.3"/>
<circle cx="500.3" cy="847.1" r="7.7" fill="none" stroke="#000000" stroke-width="1.3"/>
<circle cx="508.8" cy="850" r="7.7" fill="none" stroke="#000000" stroke-width="1.3"/>
<polygon points="456.5,823.9 465.6,833 456.5,842.1 447.4,833" fill="none" stroke="#ff00ff" stroke-width="1.7"/>
<polygon points="476.3,830.9 485.4,840 476.3,849.1 467.2,840" fill="none" stroke="#ff00ff" stroke-width="1.7"/>
<path d="M442.4 803.5V824.2M435.2 812.8H449.6M436.7 815.8H448.1" stroke="#008000" stroke-width="1.4" fill="none"/><polygon points="434,810.5 450.8,810.5 442.4,823.4" fill="none" stroke="#008000" stroke-width="2.3" stroke-linejoin="miter"/>
<path d="M466.4 814.8V835.5M459.2 824.1H473.6M460.7 827.1H472.1" stroke="#008000" stroke-width="1.4" fill="none"/><polygon points="458,821.8 474.8,821.8 466.4,834.7" fill="none" stroke="#008000" stroke-width="2.3" stroke-linejoin="miter"/>
<path d="M494.6 821.9V842.6M487.4 831.2H501.8M488.9 834.2H500.3" stroke="#008000" stroke-width="1.4" fill="none"/><polygon points="486.2,828.9 503,828.9 494.6,841.8" fill="none" stroke="#008000" stroke-width="2.3" stroke-linejoin="miter"/>
<path d="M515.8 834.6V855.3M508.6 843.9H523M510.1 846.9H521.5" stroke="#008000" stroke-width="1.4" fill="none"/><polygon points="507.4,841.6 524.1,841.6 515.8,854.5" fill="none" stroke="#008000" stroke-width="2.3" stroke-linejoin="miter"/>
<path d="M538.4 843.1V863.8M531.2 852.4H545.6M532.7 855.4H544.1" stroke="#008000" stroke-width="1.4" fill="none"/><polygon points="530,850.1 546.8,850.1 538.4,863" fill="none" stroke="#008000" stroke-width="2.3" stroke-linejoin="miter"/>
<path d="M561 848.7V869.4M553.8 858H568.2M555.3 861H566.7" stroke="#008000" stroke-width="1.4" fill="none"/><polygon points="552.6,855.7 569.4,855.7 561,868.6" fill="none" stroke="#008000" stroke-width="2.3" stroke-linejoin="miter"/>
<path d="M579.4 854.4V875.1M572.2 863.7H586.6M573.7 866.7H585.1" stroke="#008000" stroke-width="1.4" fill="none"/><polygon points="571,861.4 587.8,861.4 579.4,874.3" fill="none" stroke="#008000" stroke-width="2.3" stroke-linejoin="miter"/>
<path d="M592.1 862.9V883.6M584.9 872.2H599.3M586.4 875.2H597.8" stroke="#008000" stroke-width="1.4" fill="none"/><polygon points="583.8,869.9 600.5,869.9 592.1,882.8" fill="none" stroke="#008000" stroke-width="2.3" stroke-linejoin="miter"/>
<path d="M621.8 865.7V886.4M614.6 875H629M616.1 878H627.5" stroke="#008000" stroke-width="1.4" fill="none"/><polygon points="613.4,872.7 630.1,872.7 621.8,885.6" fill="none" stroke="#008000" stroke-width="2.3" stroke-linejoin="miter"/>
<path d="M650 871.3V892M642.8 880.6H657.2M644.3 883.6H655.7" stroke="#008000" stroke-width="1.4" fill="none"/><polygon points="641.6,878.3 658.4,878.3 650,891.2" fill="none" stroke="#008000" stroke-width="2.3" stroke-linejoin="miter"/>
<path d="M675 877.9V898.6M667.8 887.2H682.2M669.3 890.2H680.7" stroke="#008000" stroke-width="1.4" fill="none"/><polygon points="666.6,884.9 683.4,884.9 675,897.8" fill="none" stroke="#008000" stroke-width="2.3" stroke-linejoin="miter"/>
<path d="M697 881.9V902.6M689.8 891.2H704.2M691.3 894.2H702.7" stroke="#008000" stroke-width="1.4" fill="none"/><polygon points="688.6,888.9 705.4,888.9 697,901.8" fill="none" stroke="#008000" stroke-width="2.3" stroke-linejoin="miter"/>
<polygon points="713.3,910.9 732.3,910.9 722.8,927.1" fill="#008000"/><polygon points="715.8,912.7 721.8,912.7 721.8,923.1" fill="#fff"/><path d="M722.8 905.4V914.4M715.6 914.5H730M713.3 921.2H732.3M722.8 921.2V925.1" stroke="#008000" stroke-width="1.4" fill="none"/><path d="M722.8 904.9V927.1M715.8 911.9H729.8" stroke="#008000" stroke-width="1.4" fill="none"/>
<polygon points="743.3,923.1 762.3,923.1 752.8,939.3" fill="#008000"/><polygon points="745.8,924.9 751.8,924.9 751.8,935.3" fill="#fff"/><path d="M752.8 917.6V926.6M745.6 926.7H760M743.3 933.4H762.3M752.8 933.4V937.3" stroke="#008000" stroke-width="1.4" fill="none"/><path d="M752.8 917.1V939.3M745.8 924.1H759.8" stroke="#008000" stroke-width="1.4" fill="none"/>
<polygon points="785.7,927.2 804.7,927.2 795.2,943.4" fill="#008000"/><polygon points="788.2,929 794.2,929 794.2,939.4" fill="#fff"/><path d="M795.2 921.7V930.7M788 930.8H802.4M785.7 937.5H804.7M795.2 937.5V941.4" stroke="#008000" stroke-width="1.4" fill="none"/><path d="M795.2 921.2V943.4M788.2 928.2H802.2" stroke="#008000" stroke-width="1.4" fill="none"/>
<polygon points="825.3,930 844.3,930 834.8,946.2" fill="#008000"/><polygon points="827.8,931.8 833.8,931.8 833.8,942.2" fill="#fff"/><path d="M834.8 924.5V933.5M827.6 933.6H842M825.3 940.3H844.3M834.8 940.3V944.2" stroke="#008000" stroke-width="1.4" fill="none"/><path d="M834.8 924V946.2M827.8 931H841.8" stroke="#008000" stroke-width="1.4" fill="none"/>
<line x1="434" y1="757.6" x2="434" y2="794.4" stroke="#000000" stroke-width="2" /><polygon points="434,740 439.8,762 434,757.6 428.2,762" fill="#000000"/><polygon points="434,812 439.8,790 434,794.4 428.2,790" fill="#000000"/>
<line x1="709" y1="893" x2="709" y2="909.2" stroke="#000000" stroke-width="1.8" /><polygon points="709,922 713.5,906 709,909.2 704.5,906" fill="#000000"/>
<g font-family="Liberation Sans, sans-serif">
<text x="442" y="797.7" font-size="27.5" fill="#000000" text-anchor="start" font-weight="normal" >ΔV/V<tspan font-size="18" dy="11">oct.</tspan><tspan dy="-11">~9.2%</tspan></text>
<text x="748.5" y="911.5" font-size="27.5" fill="#000000" text-anchor="start" font-weight="normal" >ΔV/V<tspan font-size="18" dy="11">oct.</tspan><tspan dy="-11">~3%</tspan></text>
<text x="194.8" y="579" font-size="39" fill="#000000" text-anchor="start" font-weight="normal" letter-spacing="1.4">(b)</text>
</g>
<circle cx="161.5" cy="987.5" r="7.6" fill="#000000"/>
<circle cx="220.3" cy="1049.7" r="7.6" fill="#000000"/>
<circle cx="232.4" cy="1051.2" r="7.6" fill="#000000"/>
<circle cx="271.5" cy="1075.3" r="7.6" fill="#000000"/>
<circle cx="292.6" cy="1087.4" r="7.6" fill="#000000"/>
<circle cx="310.7" cy="1088.9" r="7.6" fill="#000000"/>
<circle cx="336.3" cy="1110" r="7.6" fill="#000000"/>
<circle cx="357.4" cy="1114.5" r="7.6" fill="#000000"/>
<circle cx="371" cy="1129.6" r="7.6" fill="#000000"/>
<circle cx="390.6" cy="1132.6" r="7.6" fill="#000000"/>
<circle cx="407.1" cy="1149.1" r="7.6" fill="#000000"/>
<circle cx="419.2" cy="1155.2" r="7.6" fill="#000000"/>
<polygon points="161.5,984.2 171.2,994 161.5,1003.8 151.8,994" fill="#ff00ff"/>
<polygon points="166.1,996.2 175.8,1006 166.1,1015.8 156.3,1006" fill="#ff00ff"/>
<polygon points="178.1,1003.9 187.8,1013.6 178.1,1023.4 168.3,1013.6" fill="#ff00ff"/>
<polygon points="200.7,1021.8 210.4,1031.6 200.7,1041.3 190.9,1031.6" fill="#ff00ff"/>
<polygon points="236.9,1049 246.7,1058.8 236.9,1068.5 227.2,1058.8" fill="#ff00ff"/>
<polygon points="261,1061 270.8,1070.8 261,1080.5 251.2,1070.8" fill="#ff00ff"/>
<polygon points="283.6,1076.2 293.4,1085.9 283.6,1095.7 273.9,1085.9" fill="#ff00ff"/>
<polygon points="307.7,1089.7 317.4,1099.4 307.7,1109.2 297.9,1099.4" fill="#ff00ff"/>
<polygon points="348.4,1109.2 358.1,1119 348.4,1128.8 338.6,1119" fill="#ff00ff"/>
<polygon points="395,1134.8 404.8,1144.6 395,1154.3 385.2,1144.6" fill="#ff00ff"/>
<polygon points="152,988.8 171,988.8 161.5,1005" fill="#008000"/><line x1="161.5" y1="988.8" x2="161.5" y2="982.8" stroke="#008000" stroke-width="1.6"/>
<polygon points="185.2,1019 204.2,1019 194.7,1035.2" fill="#008000"/><line x1="194.7" y1="1019" x2="194.7" y2="1013" stroke="#008000" stroke-width="1.6"/>
<polygon points="212.3,1038.6 231.3,1038.6 221.8,1054.8" fill="#008000"/><line x1="221.8" y1="1038.6" x2="221.8" y2="1032.6" stroke="#008000" stroke-width="1.6"/>
<polygon points="239.5,1055.2 258.5,1055.2 249,1071.4" fill="#008000"/><line x1="249" y1="1055.2" x2="249" y2="1049.2" stroke="#008000" stroke-width="1.6"/>
<polygon points="268.1,1068.7 287.1,1068.7 277.6,1084.9" fill="#008000"/><line x1="277.6" y1="1068.7" x2="277.6" y2="1062.7" stroke="#008000" stroke-width="1.6"/>
<polygon points="292.2,1085.3 311.2,1085.3 301.7,1101.5" fill="#008000"/><line x1="301.7" y1="1085.3" x2="301.7" y2="1079.3" stroke="#008000" stroke-width="1.6"/>
<polygon points="322.3,1097.4 341.3,1097.4 331.8,1113.6" fill="#008000"/><line x1="331.8" y1="1097.4" x2="331.8" y2="1091.4" stroke="#008000" stroke-width="1.6"/>
<polygon points="347.9,1112.4 366.9,1112.4 357.4,1128.6" fill="#008000"/><line x1="357.4" y1="1112.4" x2="357.4" y2="1106.4" stroke="#008000" stroke-width="1.6"/>
<polygon points="370.5,1119.9 389.5,1119.9 380,1136.1" fill="#008000"/><line x1="380" y1="1119.9" x2="380" y2="1113.9" stroke="#008000" stroke-width="1.6"/>
<polygon points="388.6,1132 407.6,1132 398.1,1148.2" fill="#008000"/><line x1="398.1" y1="1132" x2="398.1" y2="1126" stroke="#008000" stroke-width="1.6"/>
<polygon points="406.7,1136.5 425.7,1136.5 416.2,1152.7" fill="#008000"/><line x1="416.2" y1="1136.5" x2="416.2" y2="1130.5" stroke="#008000" stroke-width="1.6"/>
<polygon points="421.7,1144 440.7,1144 431.2,1160.2" fill="#008000"/><line x1="431.2" y1="1144" x2="431.2" y2="1138" stroke="#008000" stroke-width="1.6"/>
<path d="M438.6 1245.5H451.8M445.2 1236.4V1251.6" stroke="#000000" stroke-width="1.2" fill="none"/><circle cx="445.2" cy="1244" r="6.4" fill="none" stroke="#000000" stroke-width="2.3"/>
<path d="M455.2 1256H468.4M461.8 1246.9V1262.1" stroke="#000000" stroke-width="1.2" fill="none"/><circle cx="461.8" cy="1254.5" r="6.4" fill="none" stroke="#000000" stroke-width="2.3"/>
<path d="M483.8 1257.5H497M490.4 1248.4V1263.6" stroke="#000000" stroke-width="1.2" fill="none"/><circle cx="490.4" cy="1256" r="6.4" fill="none" stroke="#000000" stroke-width="2.3"/>
<path d="M497.4 1260.5H510.6M504 1251.4V1266.6" stroke="#000000" stroke-width="1.2" fill="none"/><circle cx="504" cy="1259" r="6.4" fill="none" stroke="#000000" stroke-width="2.3"/>
<path d="M504.9 1265H518.1M511.5 1255.9V1271.1" stroke="#000000" stroke-width="1.2" fill="none"/><circle cx="511.5" cy="1263.5" r="6.4" fill="none" stroke="#000000" stroke-width="2.3"/>
<path d="M451.6 1245.5H466.1M451.6 1248.8H466.1M458.8 1237.2V1256.8" stroke="#ff00ff" stroke-width="1.2" fill="none"/><polygon points="458.8,1238.7 467.1,1247 458.8,1255.3 450.5,1247" fill="none" stroke="#ff00ff" stroke-width="2.1"/>
<path d="M472.6 1253H487.1M472.6 1256.3H487.1M479.8 1244.8V1264.2" stroke="#ff00ff" stroke-width="1.2" fill="none"/><polygon points="479.8,1246.2 488.1,1254.5 479.8,1262.8 471.5,1254.5" fill="none" stroke="#ff00ff" stroke-width="2.1"/>
<path d="M445.2 1215.3V1224.3M438 1224.4H452.4M435.7 1231.1H454.7M445.2 1231.1V1235" stroke="#008000" stroke-width="1.4" fill="none"/><polygon points="436.8,1222.3 453.6,1222.3 445.2,1235.2" fill="none" stroke="#008000" stroke-width="2.3" stroke-linejoin="miter"/>
<path d="M466.3 1227.3V1236.3M459.1 1236.4H473.5M456.8 1243.1H475.8M466.3 1243.1V1247" stroke="#008000" stroke-width="1.4" fill="none"/><polygon points="457.9,1234.3 474.7,1234.3 466.3,1247.2" fill="none" stroke="#008000" stroke-width="2.3" stroke-linejoin="miter"/>
<path d="M497.9 1233.4V1242.4M490.7 1242.5H505.1M488.4 1249.2H507.4M497.9 1249.2V1253.1" stroke="#008000" stroke-width="1.4" fill="none"/><polygon points="489.5,1240.4 506.2,1240.4 497.9,1253.3" fill="none" stroke="#008000" stroke-width="2.3" stroke-linejoin="miter"/>
<path d="M519 1248.4V1257.4M511.8 1257.5H526.2M509.5 1264.2H528.5M519 1264.2V1268.1" stroke="#008000" stroke-width="1.4" fill="none"/><polygon points="510.6,1255.4 527.4,1255.4 519,1268.3" fill="none" stroke="#008000" stroke-width="2.3" stroke-linejoin="miter"/>
<path d="M541.6 1256V1265M534.4 1265.1H548.8M532.1 1271.8H551.1M541.6 1271.8V1275.7" stroke="#008000" stroke-width="1.4" fill="none"/><polygon points="533.2,1263 550,1263 541.6,1275.9" fill="none" stroke="#008000" stroke-width="2.3" stroke-linejoin="miter"/>
<path d="M564.2 1262V1271M557 1271.1H571.4M554.7 1277.8H573.7M564.2 1277.8V1281.7" stroke="#008000" stroke-width="1.4" fill="none"/><polygon points="555.9,1269 572.6,1269 564.2,1281.9" fill="none" stroke="#008000" stroke-width="2.3" stroke-linejoin="miter"/>
<path d="M583.5 1270.4V1279.4M576.3 1279.5H590.7M574 1286.2H593M583.5 1286.2V1290.1" stroke="#008000" stroke-width="1.4" fill="none"/><polygon points="575.1,1277.4 591.9,1277.4 583.5,1290.3" fill="none" stroke="#008000" stroke-width="2.3" stroke-linejoin="miter"/>
<path d="M595.3 1280.9V1289.9M588.1 1290H602.5M585.8 1296.7H604.8M595.3 1296.7V1300.6" stroke="#008000" stroke-width="1.4" fill="none"/><polygon points="586.9,1287.9 603.6,1287.9 595.3,1300.8" fill="none" stroke="#008000" stroke-width="2.3" stroke-linejoin="miter"/>
<path d="M625.6 1279.6V1288.6M618.4 1288.7H632.8M616.1 1295.4H635.1M625.6 1295.4V1299.3" stroke="#008000" stroke-width="1.4" fill="none"/><polygon points="617.2,1286.6 634,1286.6 625.6,1299.5" fill="none" stroke="#008000" stroke-width="2.3" stroke-linejoin="miter"/>
<path d="M653.3 1288.8V1297.8M646.1 1297.9H660.5M643.8 1304.6H662.8M653.3 1304.6V1308.5" stroke="#008000" stroke-width="1.4" fill="none"/><polygon points="644.9,1295.8 661.6,1295.8 653.3,1308.7" fill="none" stroke="#008000" stroke-width="2.3" stroke-linejoin="miter"/>
<path d="M677 1294.1V1303.1M669.8 1303.2H684.2M667.5 1309.9H686.5M677 1309.9V1313.8" stroke="#008000" stroke-width="1.4" fill="none"/><polygon points="668.6,1301.1 685.4,1301.1 677,1314" fill="none" stroke="#008000" stroke-width="2.3" stroke-linejoin="miter"/>
<path d="M702.8 1298.9V1307.9M695.6 1308H710M693.3 1314.7H712.3M702.8 1314.7V1318.6" stroke="#008000" stroke-width="1.4" fill="none"/><polygon points="694.4,1305.9 711.1,1305.9 702.8,1318.8" fill="none" stroke="#008000" stroke-width="2.3" stroke-linejoin="miter"/>
<polygon points="716.6,1336.5 735.6,1336.5 726.1,1352.7" fill="#008000"/><polygon points="719.1,1338.3 725.1,1338.3 725.1,1348.7" fill="#fff"/><path d="M726.1 1331V1340M718.9 1340.1H733.3M716.6 1346.8H735.6M726.1 1346.8V1350.7" stroke="#008000" stroke-width="1.4" fill="none"/><path d="M726.1 1330.5V1352.7M719.1 1337.5H733.1" stroke="#008000" stroke-width="1.4" fill="none"/>
<polygon points="747.3,1342.4 766.3,1342.4 756.8,1358.6" fill="#008000"/><polygon points="749.8,1344.2 755.8,1344.2 755.8,1354.6" fill="#fff"/><path d="M756.8 1336.9V1345.9M749.6 1346H764M747.3 1352.7H766.3M756.8 1352.7V1356.6" stroke="#008000" stroke-width="1.4" fill="none"/><path d="M756.8 1336.4V1358.6M749.8 1343.4H763.8" stroke="#008000" stroke-width="1.4" fill="none"/>
<polygon points="789.6,1345.3 808.6,1345.3 799.1,1361.5" fill="#008000"/><polygon points="792.1,1347.1 798.1,1347.1 798.1,1357.5" fill="#fff"/><path d="M799.1 1339.8V1348.8M791.9 1348.9H806.3M789.6 1355.6H808.6M799.1 1355.6V1359.5" stroke="#008000" stroke-width="1.4" fill="none"/><path d="M799.1 1339.3V1361.5M792.1 1346.3H806.1" stroke="#008000" stroke-width="1.4" fill="none"/>
<polygon points="829,1346.8 848,1346.8 838.5,1363" fill="#008000"/><polygon points="831.5,1348.6 837.5,1348.6 837.5,1359" fill="#fff"/><path d="M838.5 1341.3V1350.3M831.3 1350.4H845.7M829 1357.1H848M838.5 1357.1V1361" stroke="#008000" stroke-width="1.4" fill="none"/><path d="M838.5 1340.8V1363M831.5 1347.8H845.5" stroke="#008000" stroke-width="1.4" fill="none"/>
<path d="M154.9 1279.8V1307.8M147.9 1279.8H161.9M147.9 1307.8H161.9" stroke="#000000" stroke-width="1.8" fill="none"/>
<path d="M215.6 1273.4V1294.4M208.6 1273.4H222.6M208.6 1294.4H222.6" stroke="#000000" stroke-width="1.8" fill="none"/>
<path d="M226.9 1287.5V1308.5M219.9 1287.5H233.9M219.9 1308.5H233.9" stroke="#000000" stroke-width="1.8" fill="none"/>
<path d="M263.6 1297.4V1318.4M256.6 1297.4H270.6M256.6 1318.4H270.6" stroke="#000000" stroke-width="1.8" fill="none"/>
<path d="M286.2 1301.6V1322.6M279.2 1301.6H293.2M279.2 1322.6H293.2" stroke="#000000" stroke-width="1.8" fill="none"/>
<path d="M301.8 1308.7V1329.7M294.8 1308.7H308.8M294.8 1329.7H308.8" stroke="#000000" stroke-width="1.8" fill="none"/>
<path d="M328.6 1308.7V1329.7M321.6 1308.7H335.6M321.6 1329.7H335.6" stroke="#000000" stroke-width="1.8" fill="none"/>
<path d="M351.2 1312.9V1333.9M344.2 1312.9H358.2M344.2 1333.9H358.2" stroke="#000000" stroke-width="1.8" fill="none"/>
<path d="M365.3 1311.5V1332.5M358.3 1311.5H372.3M358.3 1332.5H372.3" stroke="#000000" stroke-width="1.8" fill="none"/>
<path d="M385.1 1321.4V1342.4M378.1 1321.4H392.1M378.1 1342.4H392.1" stroke="#000000" stroke-width="1.8" fill="none"/>
<path d="M414.8 1312.9V1333.9M407.8 1312.9H421.8M407.8 1333.9H421.8" stroke="#000000" stroke-width="1.8" fill="none"/>
<path d="M438.8 1312.9V1333.9M431.8 1312.9H445.8M431.8 1333.9H445.8" stroke="#000000" stroke-width="1.8" fill="none"/>
<polygon points="153.5,1264.2 163.2,1274 153.5,1283.8 143.8,1274" fill="#fff" stroke="#ff00ff" stroke-width="2.1"/><polygon points="153.5,1264.2 163.2,1274 143.8,1274" fill="#ff00ff"/><path d="M146.2 1272.5H160.8M146.2 1275.8H160.8M153.5 1264.2V1283.8" stroke="#ff00ff" stroke-width="1.2" fill="none"/>
<polygon points="173.2,1268.5 182.9,1278.2 173.2,1288 163.4,1278.2" fill="#fff" stroke="#ff00ff" stroke-width="2.1"/><polygon points="173.2,1268.5 182.9,1278.2 163.4,1278.2" fill="#ff00ff"/><path d="M165.9 1276.7H180.4M165.9 1280H180.4M173.2 1268.5V1288" stroke="#ff00ff" stroke-width="1.2" fill="none"/>
<polygon points="194.4,1274.2 204.2,1283.9 194.4,1293.7 184.7,1283.9" fill="#fff" stroke="#ff00ff" stroke-width="2.1"/><polygon points="194.4,1274.2 204.2,1283.9 184.7,1283.9" fill="#ff00ff"/><path d="M187.2 1282.4H201.7M187.2 1285.7H201.7M194.4 1274.2V1293.7" stroke="#ff00ff" stroke-width="1.2" fill="none"/>
<polygon points="232.6,1288.2 242.3,1298 232.6,1307.8 222.8,1298" fill="#fff" stroke="#ff00ff" stroke-width="2.1"/><polygon points="232.6,1288.2 242.3,1298 222.8,1298" fill="#ff00ff"/><path d="M225.3 1296.5H239.8M225.3 1299.8H239.8M232.6 1288.2V1307.8" stroke="#ff00ff" stroke-width="1.2" fill="none"/>
<polygon points="255.2,1288.2 264.9,1298 255.2,1307.8 245.4,1298" fill="#fff" stroke="#ff00ff" stroke-width="2.1"/><polygon points="255.2,1288.2 264.9,1298 245.4,1298" fill="#ff00ff"/><path d="M247.9 1296.5H262.4M247.9 1299.8H262.4M255.2 1288.2V1307.8" stroke="#ff00ff" stroke-width="1.2" fill="none"/>
<polygon points="280.6,1294 290.4,1303.7 280.6,1313.5 270.9,1303.7" fill="#fff" stroke="#ff00ff" stroke-width="2.1"/><polygon points="280.6,1294 290.4,1303.7 270.9,1303.7" fill="#ff00ff"/><path d="M273.4 1302.2H287.9M273.4 1305.5H287.9M280.6 1294V1313.5" stroke="#ff00ff" stroke-width="1.2" fill="none"/>
<polygon points="303.2,1298.2 312.9,1307.9 303.2,1317.7 293.4,1307.9" fill="#fff" stroke="#ff00ff" stroke-width="2.1"/><polygon points="303.2,1298.2 312.9,1307.9 293.4,1307.9" fill="#ff00ff"/><path d="M295.9 1306.4H310.4M295.9 1309.7H310.4M303.2 1298.2V1317.7" stroke="#ff00ff" stroke-width="1.2" fill="none"/>
<polygon points="342.7,1305.2 352.4,1315 342.7,1324.8 332.9,1315" fill="#fff" stroke="#ff00ff" stroke-width="2.1"/><polygon points="342.7,1305.2 352.4,1315 332.9,1315" fill="#ff00ff"/><path d="M335.4 1313.5H349.9M335.4 1316.8H349.9M342.7 1305.2V1324.8" stroke="#ff00ff" stroke-width="1.2" fill="none"/>
<polygon points="393.6,1310.8 403.4,1320.6 393.6,1330.3 383.9,1320.6" fill="#fff" stroke="#ff00ff" stroke-width="2.1"/><polygon points="393.6,1310.8 403.4,1320.6 383.9,1320.6" fill="#ff00ff"/><path d="M386.4 1319.1H400.9M386.4 1322.4H400.9M393.6 1310.8V1330.3" stroke="#ff00ff" stroke-width="1.2" fill="none"/>
<circle cx="154.9" cy="1293.8" r="6.1" fill="#fff" stroke="#000000" stroke-width="2.3"/><path d="M147.9 1293.8A7 7 0 0 1 161.9 1293.8Z" fill="#000000"/>
<circle cx="215.6" cy="1283.9" r="6.1" fill="#fff" stroke="#000000" stroke-width="2.3"/><path d="M208.6 1283.9A7 7 0 0 1 222.6 1283.9Z" fill="#000000"/>
<circle cx="226.9" cy="1298" r="6.1" fill="#fff" stroke="#000000" stroke-width="2.3"/><path d="M219.9 1298A7 7 0 0 1 233.9 1298Z" fill="#000000"/>
<circle cx="263.6" cy="1307.9" r="6.1" fill="#fff" stroke="#000000" stroke-width="2.3"/><path d="M256.6 1307.9A7 7 0 0 1 270.6 1307.9Z" fill="#000000"/>
<circle cx="286.2" cy="1312.1" r="6.1" fill="#fff" stroke="#000000" stroke-width="2.3"/><path d="M279.2 1312.1A7 7 0 0 1 293.2 1312.1Z" fill="#000000"/>
<circle cx="301.8" cy="1319.2" r="6.1" fill="#fff" stroke="#000000" stroke-width="2.3"/><path d="M294.8 1319.2A7 7 0 0 1 308.8 1319.2Z" fill="#000000"/>
<circle cx="328.6" cy="1319.2" r="6.1" fill="#fff" stroke="#000000" stroke-width="2.3"/><path d="M321.6 1319.2A7 7 0 0 1 335.6 1319.2Z" fill="#000000"/>
<circle cx="351.2" cy="1323.4" r="6.1" fill="#fff" stroke="#000000" stroke-width="2.3"/><path d="M344.2 1323.4A7 7 0 0 1 358.2 1323.4Z" fill="#000000"/>
<circle cx="365.3" cy="1322" r="6.1" fill="#fff" stroke="#000000" stroke-width="2.3"/><path d="M358.3 1322A7 7 0 0 1 372.3 1322Z" fill="#000000"/>
<circle cx="385.1" cy="1331.9" r="6.1" fill="#fff" stroke="#000000" stroke-width="2.3"/><path d="M378.1 1331.9A7 7 0 0 1 392.1 1331.9Z" fill="#000000"/>
<circle cx="414.8" cy="1323.4" r="6.1" fill="#fff" stroke="#000000" stroke-width="2.3"/><path d="M407.8 1323.4A7 7 0 0 1 421.8 1323.4Z" fill="#000000"/>
<circle cx="438.8" cy="1323.4" r="6.1" fill="#fff" stroke="#000000" stroke-width="2.3"/><path d="M431.8 1323.4A7 7 0 0 1 445.8 1323.4Z" fill="#000000"/>
<polygon points="145.7,1289.5 164.1,1289.5 154.9,1272.7" fill="#008000"/><line x1="154.9" y1="1289.5" x2="154.9" y2="1295.5" stroke="#008000" stroke-width="1.6"/>
<polygon points="178.2,1299.4 196.6,1299.4 187.4,1282.6" fill="#008000"/><line x1="187.4" y1="1299.4" x2="187.4" y2="1305.4" stroke="#008000" stroke-width="1.6"/>
<polygon points="205,1302.2 223.4,1302.2 214.2,1285.4" fill="#008000"/><line x1="214.2" y1="1302.2" x2="214.2" y2="1308.2" stroke="#008000" stroke-width="1.6"/>
<polygon points="233.3,1307.8 251.7,1307.8 242.5,1291" fill="#008000"/><line x1="242.5" y1="1307.8" x2="242.5" y2="1313.8" stroke="#008000" stroke-width="1.6"/>
<polygon points="261.5,1314.9 279.9,1314.9 270.7,1298.1" fill="#008000"/><line x1="270.7" y1="1314.9" x2="270.7" y2="1320.9" stroke="#008000" stroke-width="1.6"/>
<polygon points="285.5,1313.5 303.9,1313.5 294.7,1296.7" fill="#008000"/><line x1="294.7" y1="1313.5" x2="294.7" y2="1319.5" stroke="#008000" stroke-width="1.6"/>
<polygon points="315.2,1326.2 333.6,1326.2 324.4,1309.4" fill="#008000"/><line x1="324.4" y1="1326.2" x2="324.4" y2="1332.2" stroke="#008000" stroke-width="1.6"/>
<polygon points="340.6,1326.2 359,1326.2 349.8,1309.4" fill="#008000"/><line x1="349.8" y1="1326.2" x2="349.8" y2="1332.2" stroke="#008000" stroke-width="1.6"/>
<polygon points="363.2,1338.9 381.6,1338.9 372.4,1322.1" fill="#008000"/><line x1="372.4" y1="1338.9" x2="372.4" y2="1344.9" stroke="#008000" stroke-width="1.6"/>
<polygon points="383,1337.5 401.4,1337.5 392.2,1320.7" fill="#008000"/><line x1="392.2" y1="1337.5" x2="392.2" y2="1343.5" stroke="#008000" stroke-width="1.6"/>
<polygon points="399.9,1344.6 418.3,1344.6 409.1,1327.8" fill="#008000"/><line x1="409.1" y1="1344.6" x2="409.1" y2="1350.6" stroke="#008000" stroke-width="1.6"/>
<polygon points="415.5,1344.6 433.9,1344.6 424.7,1327.8" fill="#008000"/><line x1="424.7" y1="1344.6" x2="424.7" y2="1350.6" stroke="#008000" stroke-width="1.6"/>
<path d="M439.8 1314.3V1335.3M432.3 1314.3H447.3M432.3 1335.3H447.3" stroke="#000000" stroke-width="1.8" fill="none"/>
<circle cx="439.8" cy="1324.8" r="6.1" fill="#fff" stroke="#000000" stroke-width="2.3"/><path d="M439.8 1317.8A7 7 0 0 1 439.8 1331.8Z" fill="#000000"/>
<path d="M456.9 1306.4V1327.4M449.4 1306.4H464.4M449.4 1327.4H464.4" stroke="#000000" stroke-width="1.8" fill="none"/>
<circle cx="456.9" cy="1316.9" r="6.1" fill="#fff" stroke="#000000" stroke-width="2.3"/><path d="M456.9 1309.9A7 7 0 0 1 456.9 1323.9Z" fill="#000000"/>
<path d="M475.4 1332.8V1353.8M467.9 1332.8H482.9M467.9 1353.8H482.9" stroke="#000000" stroke-width="1.8" fill="none"/>
<circle cx="475.4" cy="1343.3" r="6.1" fill="#fff" stroke="#000000" stroke-width="2.3"/><path d="M475.4 1336.3A7 7 0 0 1 475.4 1350.3Z" fill="#000000"/>
<path d="M485.9 1332.8V1353.8M478.4 1332.8H493.4M478.4 1353.8H493.4" stroke="#000000" stroke-width="1.8" fill="none"/>
<circle cx="485.9" cy="1343.3" r="6.1" fill="#fff" stroke="#000000" stroke-width="2.3"/><path d="M485.9 1336.3A7 7 0 0 1 485.9 1350.3Z" fill="#000000"/>
<path d="M504.4 1331.5V1352.5M496.9 1331.5H511.9M496.9 1352.5H511.9" stroke="#000000" stroke-width="1.8" fill="none"/>
<circle cx="504.4" cy="1342" r="6.1" fill="#fff" stroke="#000000" stroke-width="2.3"/><path d="M504.4 1335A7 7 0 0 1 504.4 1349Z" fill="#000000"/>
<polygon points="454.3,1320.3 464.1,1330.1 454.3,1339.8 444.6,1330.1" fill="#fff" stroke="#ff00ff" stroke-width="2.1"/><polygon points="454.3,1320.3 464.1,1330.1 454.3,1339.8" fill="#ff00ff"/><path d="M447.1 1328.6H461.6M447.1 1331.9H461.6M454.3 1320.3V1339.8" stroke="#ff00ff" stroke-width="1.2" fill="none"/>
<polygon points="474,1320.3 483.8,1330.1 474,1339.8 464.2,1330.1" fill="#fff" stroke="#ff00ff" stroke-width="2.1"/><polygon points="474,1320.3 483.8,1330.1 474,1339.8" fill="#ff00ff"/><path d="M466.8 1328.6H481.2M466.8 1331.9H481.2M474 1320.3V1339.8" stroke="#ff00ff" stroke-width="1.2" fill="none"/>
<path d="M439.8 1351.7V1357.2M431.5 1354.7H448.1M430.6 1341.1H449M439.8 1341.1V1336.9" stroke="#008000" stroke-width="1.4" fill="none"/><polygon points="431.8,1350.2 447.9,1350.2 439.8,1336.7" fill="none" stroke="#008000" stroke-width="2.3"/>
<path d="M459.5 1339.8V1345.3M451.2 1342.8H467.8M450.3 1329.2H468.7M459.5 1329.2V1325" stroke="#008000" stroke-width="1.4" fill="none"/><polygon points="451.4,1338.3 467.6,1338.3 459.5,1324.8" fill="none" stroke="#008000" stroke-width="2.3"/>
<path d="M492.5 1362.2V1367.7M484.2 1365.2H500.8M483.3 1351.6H501.7M492.5 1351.6V1347.4" stroke="#008000" stroke-width="1.4" fill="none"/><polygon points="484.4,1360.7 500.6,1360.7 492.5,1347.2" fill="none" stroke="#008000" stroke-width="2.3"/>
<path d="M513.6 1350.4V1355.9M505.3 1353.4H521.9M504.4 1339.8H522.8M513.6 1339.8V1335.6" stroke="#008000" stroke-width="1.4" fill="none"/><polygon points="505.6,1348.9 521.6,1348.9 513.6,1335.4" fill="none" stroke="#008000" stroke-width="2.3"/>
<path d="M536 1355.6V1361.1M527.7 1358.6H544.3M526.8 1345H545.2M536 1345V1340.8" stroke="#008000" stroke-width="1.4" fill="none"/><polygon points="528,1354.1 544,1354.1 536,1340.6" fill="none" stroke="#008000" stroke-width="2.3"/>
<path d="M558.4 1360.9V1366.4M550.1 1363.9H566.7M549.2 1350.3H567.6M558.4 1350.3V1346.1" stroke="#008000" stroke-width="1.4" fill="none"/><polygon points="550.4,1359.4 566.4,1359.4 558.4,1345.9" fill="none" stroke="#008000" stroke-width="2.3"/>
<path d="M576.9 1358.3V1363.8M568.6 1361.3H585.2M567.7 1347.7H586.1M576.9 1347.7V1343.5" stroke="#008000" stroke-width="1.4" fill="none"/><polygon points="568.9,1356.8 584.9,1356.8 576.9,1343.3" fill="none" stroke="#008000" stroke-width="2.3"/>
<path d="M590 1355.6V1361.1M581.7 1358.6H598.3M580.8 1345H599.2M590 1345V1340.8" stroke="#008000" stroke-width="1.4" fill="none"/><polygon points="582,1354.1 598,1354.1 590,1340.6" fill="none" stroke="#008000" stroke-width="2.3"/>
<path d="M620.4 1368.8V1374.3M612.1 1371.8H628.7M611.2 1358.2H629.6M620.4 1358.2V1354" stroke="#008000" stroke-width="1.4" fill="none"/><polygon points="612.4,1367.3 628.4,1367.3 620.4,1353.8" fill="none" stroke="#008000" stroke-width="2.3"/>
<path d="M648 1368.8V1374.3M639.7 1371.8H656.3M638.8 1358.2H657.2M648 1358.2V1354" stroke="#008000" stroke-width="1.4" fill="none"/><polygon points="640,1367.3 656,1367.3 648,1353.8" fill="none" stroke="#008000" stroke-width="2.3"/>
<path d="M671.8 1368.8V1374.3M663.5 1371.8H680.1M662.6 1358.2H681M671.8 1358.2V1354" stroke="#008000" stroke-width="1.4" fill="none"/><polygon points="663.8,1367.3 679.8,1367.3 671.8,1353.8" fill="none" stroke="#008000" stroke-width="2.3"/>
<path d="M697 1379.9V1385.4M688.7 1382.9H705.3M687.8 1369.3H706.2M697 1369.3V1365.1" stroke="#008000" stroke-width="1.4" fill="none"/><polygon points="689,1378.4 705,1378.4 697,1364.9" fill="none" stroke="#008000" stroke-width="2.3"/>
<polygon points="709.6,1386.6 728,1386.6 718.8,1369.8" fill="#008000"/><polygon points="712.1,1384.8 717.8,1384.8 717.8,1373.8" fill="#fff"/><path d="M718.8 1386.6V1392.1M710.5 1389.6H727.1M709.6 1376H728M718.8 1376V1371.8" stroke="#008000" stroke-width="1.4" fill="none"/>
<polygon points="741.8,1392.4 760.2,1392.4 751,1375.6" fill="#008000"/><polygon points="744.3,1390.6 750,1390.6 750,1379.6" fill="#fff"/><path d="M751 1392.4V1397.9M742.7 1395.4H759.3M741.8 1381.8H760.2M751 1381.8V1377.6" stroke="#008000" stroke-width="1.4" fill="none"/>
<polygon points="784,1393.9 802.4,1393.9 793.2,1377.1" fill="#008000"/><polygon points="786.5,1392.1 792.2,1392.1 792.2,1381.1" fill="#fff"/><path d="M793.2 1393.9V1399.4M784.9 1396.9H801.5M784 1383.3H802.4M793.2 1383.3V1379.1" stroke="#008000" stroke-width="1.4" fill="none"/>
<polygon points="824.9,1393.9 843.3,1393.9 834.1,1377.1" fill="#008000"/><polygon points="827.4,1392.1 833.1,1392.1 833.1,1381.1" fill="#fff"/><path d="M834.1 1393.9V1399.4M825.8 1396.9H842.4M824.9 1383.3H843.3M834.1 1383.3V1379.1" stroke="#008000" stroke-width="1.4" fill="none"/>
<line x1="187.4" y1="1102.4" x2="283.6" y2="1102.4" stroke="#000000" stroke-width="2.8" /><polygon points="170.6,1102.4 194.6,1093.4 186.2,1102.4 194.6,1111.4" fill="#000000"/>
<line x1="436" y1="1174.2" x2="436" y2="1212.8" stroke="#000000" stroke-width="2" /><polygon points="436,1156.6 441.8,1178.6 436,1174.2 430.2,1178.6" fill="#000000"/><polygon points="436,1230.4 441.8,1208.4 436,1212.8 430.2,1208.4" fill="#000000"/>
<line x1="713.6" y1="1317" x2="713.6" y2="1334.8" stroke="#000000" stroke-width="1.8" /><polygon points="713.6,1347.6 718.1,1331.6 713.6,1334.8 709.1,1331.6" fill="#000000"/>
<ellipse cx="749.5" cy="1382.6" rx="20.4" ry="16" fill="none" stroke="#ff0000" stroke-width="3"/>
<line x1="768.4" y1="1375.3" x2="922.7" y2="1375.3" stroke="#ff0000" stroke-width="3" /><polygon points="939.5,1375.3 915.5,1367.3 923.9,1375.3 915.5,1383.3" fill="#ff0000"/>
<g font-family="Liberation Sans, sans-serif">
<text x="278" y="1203.3" font-size="27.5" fill="#000000" text-anchor="start" font-weight="normal" >Δ<tspan font-style="italic">d</tspan>/<tspan font-style="italic">d</tspan>~3.1%</text>
<text x="739" y="1331.5" font-size="27.5" fill="#000000" text-anchor="start" font-weight="normal" >Δ<tspan font-style="italic">d</tspan>/<tspan font-style="italic">d</tspan>~1.3%</text>
<text x="171" y="1386.2" font-size="39" fill="#000000" text-anchor="start" font-weight="normal" letter-spacing="1.4">(c)</text>
<text x="564.7" y="997.3" font-size="24" fill="#000000" text-anchor="start" font-weight="bold" >Fe-O</text>
<polygon points="535.4,1014.3 553.4,1014.3 544.4,1029.3" fill="#008000"/>
<polygon points="591,1015 607.6,1015 599.3,1028.3" fill="none" stroke="#008000" stroke-width="1.6" stroke-linejoin="miter"/>
<polygon points="644.7,1014.3 662.7,1014.3 653.7,1029.3" fill="#008000"/><polygon points="647.2,1016.1 652.7,1016.1 652.7,1025.3" fill="#fff"/>
<text x="688.3" y="1029.5" font-size="26" fill="#000000" text-anchor="start" font-weight="normal" >LP, HP, <tspan font-style="italic">C2/c</tspan> (DESY)</text>
<circle cx="544.4" cy="1051" r="7.2" fill="#000000"/>
<circle cx="599.3" cy="1050.5" r="7" fill="none" stroke="#000000" stroke-width="1.4"/>
<text x="633.7" y="1059" font-size="26" fill="#000000" text-anchor="start" font-weight="normal" >LP, HP (APS)</text>
<polygon points="544.4,1072 553.6,1081.3 544.4,1090.5 535.1,1081.3" fill="#ff00ff"/>
<polygon points="599.3,1073 608.1,1081.8 599.3,1090.6 590.5,1081.8" fill="none" stroke="#ff00ff" stroke-width="1.4"/>
<text x="633.7" y="1089.3" font-size="26" fill="#000000" text-anchor="start" font-weight="normal" >LP, HP (ESRF)</text>
<text x="564.7" y="1122.6" font-size="24" fill="#000000" text-anchor="start" font-weight="bold" >B-O</text>
<polygon points="535.4,1152.4 553.4,1152.4 544.4,1137.4" fill="#008000"/>
<polygon points="591,1151.7 607.6,1151.7 599.3,1138.4" fill="none" stroke="#008000" stroke-width="1.6"/>
<polygon points="644.7,1152.4 662.7,1152.4 653.7,1137.4" fill="#008000"/><polygon points="647.2,1150.6 652.7,1150.6 652.7,1141.4" fill="#fff"/>
<text x="688.3" y="1152.6" font-size="26" fill="#000000" text-anchor="start" font-weight="normal" >LP, HP, <tspan font-style="italic">C2/c</tspan> (DESY)</text>
<circle cx="544.4" cy="1176.5" r="6.3" fill="#fff" stroke="#000000" stroke-width="2.3"/><path d="M537.2 1176.5A7.2 7.2 0 0 1 551.6 1176.5Z" fill="#000000"/>
<circle cx="599" cy="1176.5" r="6.3" fill="#fff" stroke="#000000" stroke-width="2.3"/><path d="M599 1169.3A7.2 7.2 0 0 1 599 1183.7Z" fill="#000000"/>
<text x="633.7" y="1184.5" font-size="26" fill="#000000" text-anchor="start" font-weight="normal" >LP, HP (APS)</text>
<polygon points="544.4,1197.5 553.6,1206.8 544.4,1216 535.1,1206.8" fill="#fff" stroke="#ff00ff" stroke-width="2.1"/><polygon points="544.4,1197.5 553.6,1206.8 535.1,1206.8" fill="#ff00ff"/>
<polygon points="599,1197.5 608.2,1206.8 599,1216 589.8,1206.8" fill="#fff" stroke="#ff00ff" stroke-width="2.1"/><polygon points="599,1197.5 608.2,1206.8 599,1216" fill="#ff00ff"/>
<text x="633.7" y="1214.8" font-size="26" fill="#000000" text-anchor="start" font-weight="normal" >LP, HP (ESRF)</text>
</g>
<line x1="230.4" y1="778" x2="230.4" y2="900" stroke="#555" stroke-width="0.9" stroke-dasharray="2,2"/>
<line x1="292.8" y1="778" x2="292.8" y2="900" stroke="#555" stroke-width="0.9" stroke-dasharray="2,2"/>
<line x1="333.7" y1="778" x2="333.7" y2="900" stroke="#555" stroke-width="0.9" stroke-dasharray="2,2"/>
<polygon points="247.4,732.1 287.6,728.6 290.2,747.5 254.2,765.5" fill="#30e2e5" stroke="#1d6f75" stroke-width="1.2" fill-opacity="1" stroke-linejoin="round"/><polygon points="247.4,732.1 287.6,728.6 268.8,739.8" fill="#2cb8c0" stroke="none" stroke-width="0" fill-opacity="0.55" stroke-linejoin="round"/><line x1="287.6" y1="728.6" x2="254.2" y2="765.5" stroke="#1d6f75" stroke-width="1"/><line x1="277.5" y1="739.4" x2="290.2" y2="747.5" stroke="#1d6f75" stroke-width="0.9"/><circle cx="269.8" cy="743.4" r="4" fill="#3cc39a" opacity="0.55"/>
<polygon points="206.5,744.6 246.7,741.2 252.7,776.3 213.3,778.8" fill="#30e2e5" stroke="#1d6f75" stroke-width="1.2" fill-opacity="1" stroke-linejoin="round"/><polygon points="206.5,744.6 246.7,741.2 229.6,760.4" fill="#2cb8c0" stroke="none" stroke-width="0" fill-opacity="0.55" stroke-linejoin="round"/><line x1="246.7" y1="741.2" x2="213.3" y2="778.8" stroke="#1d6f75" stroke-width="1"/><line x1="236.6" y1="752.1" x2="252.7" y2="776.3" stroke="#1d6f75" stroke-width="0.9"/><circle cx="229.8" cy="760.2" r="4" fill="#3cc39a" opacity="0.55"/>
<polygon points="310.6,734.2 350,730.8 356,765 316.6,768.5" fill="#30e2e5" stroke="#1d6f75" stroke-width="1.2" fill-opacity="1" stroke-linejoin="round"/><polygon points="310.6,734.2 350,730.8 333.3,749.6" fill="#2cb8c0" stroke="none" stroke-width="0" fill-opacity="0.55" stroke-linejoin="round"/><line x1="350" y1="730.8" x2="316.6" y2="768.5" stroke="#1d6f75" stroke-width="1"/><line x1="339.9" y1="741.7" x2="356" y2="765" stroke="#1d6f75" stroke-width="0.9"/><circle cx="333.3" cy="749.6" r="4" fill="#3cc39a" opacity="0.55"/>
<polygon points="268.9,747.8 311.7,743.5 316,778.7 275.7,781.7" fill="#30e2e5" stroke="#1d6f75" stroke-width="1.2" fill-opacity="1" stroke-linejoin="round"/><polygon points="268.9,747.8 311.7,743.5 292.4,763.2" fill="#2cb8c0" stroke="none" stroke-width="0" fill-opacity="0.55" stroke-linejoin="round"/><line x1="311.7" y1="743.5" x2="275.7" y2="781.7" stroke="#1d6f75" stroke-width="1"/><line x1="300.8" y1="754.7" x2="316" y2="778.7" stroke="#1d6f75" stroke-width="0.9"/><circle cx="293" cy="762.9" r="4" fill="#3cc39a" opacity="0.55"/>
<polygon points="253.8,763.3 281.2,783.9 274.4,802.7 243.5,794.2" fill="#30e2e5" stroke="#1d6f75" stroke-width="1.2" fill-opacity="1" stroke-linejoin="round"/><polygon points="253.8,763.3 281.2,783.9 264.1,783" fill="#2cb8c0" stroke="none" stroke-width="0" fill-opacity="0.55" stroke-linejoin="round"/><line x1="281.2" y1="783.9" x2="243.5" y2="794.2" stroke="#1d6f75" stroke-width="1"/><line x1="270" y1="786.7" x2="274.4" y2="802.7" stroke="#1d6f75" stroke-width="0.9"/><circle cx="263.2" cy="786" r="4" fill="#3cc39a" opacity="0.55"/>
<polygon points="257.1,804.6 289.2,807.8 286,844.2 248.6,847.4" fill="#30e2e5" stroke="#1d6f75" stroke-width="1.2" fill-opacity="1" stroke-linejoin="round"/><polygon points="257.1,804.6 289.2,807.8 271.6,824.4" fill="#2cb8c0" stroke="none" stroke-width="0" fill-opacity="0.55" stroke-linejoin="round"/><line x1="289.2" y1="807.8" x2="248.6" y2="847.4" stroke="#1d6f75" stroke-width="1"/><line x1="277.1" y1="819.3" x2="286" y2="844.2" stroke="#1d6f75" stroke-width="0.9"/><circle cx="270.2" cy="826" r="4" fill="#3cc39a" opacity="0.55"/>
<polygon points="220.1,821.2 254.4,825.4 249.2,851.1 240.7,858.8 206.4,853.7 215,830.6" fill="#30e2e5" stroke="#1d6f75" stroke-width="1.2" fill-opacity="1" stroke-linejoin="round"/><polygon points="220.1,821.2 254.4,825.4 234.7,836.1" fill="#2cb8c0" stroke="none" stroke-width="0" fill-opacity="0.55" stroke-linejoin="round"/><line x1="254.4" y1="825.4" x2="215" y2="830.6" stroke="#1d6f75" stroke-width="1"/><circle cx="230.9" cy="840.1" r="4" fill="#3cc39a" opacity="0.55"/>
<polygon points="320.6,819.9 354.9,819 350.6,837.9 344.6,848.2 312.1,843" fill="#30e2e5" stroke="#1d6f75" stroke-width="1.2" fill-opacity="1" stroke-linejoin="round"/><polygon points="320.6,819.9 354.9,819 335.6,828.9" fill="#2cb8c0" stroke="none" stroke-width="0" fill-opacity="0.55" stroke-linejoin="round"/><line x1="354.9" y1="819" x2="312.1" y2="843" stroke="#1d6f75" stroke-width="1"/><circle cx="336.5" cy="833.6" r="4" fill="#3cc39a" opacity="0.55"/>
<polygon points="277.8,791.1 316.3,787.6 322.3,821 282.1,824.5" fill="#30e2e5" stroke="#1d6f75" stroke-width="1.2" fill-opacity="1" stroke-linejoin="round"/><polygon points="277.8,791.1 316.3,787.6 300.1,806" fill="#2cb8c0" stroke="none" stroke-width="0" fill-opacity="0.55" stroke-linejoin="round"/><line x1="316.3" y1="787.6" x2="282.1" y2="824.5" stroke="#1d6f75" stroke-width="1"/><line x1="306" y1="798.3" x2="322.3" y2="821" stroke="#1d6f75" stroke-width="0.9"/><circle cx="299.6" cy="806" r="4" fill="#3cc39a" opacity="0.55"/>
<polygon points="245.2,849.4 272.6,853.7 288,876.8 248.6,881.1" fill="#30e2e5" stroke="#1d6f75" stroke-width="1.2" fill-opacity="1" stroke-linejoin="round"/><polygon points="245.2,849.4 272.6,853.7 266.6,863.1" fill="#2cb8c0" stroke="none" stroke-width="0" fill-opacity="0.55" stroke-linejoin="round"/><line x1="272.6" y1="853.7" x2="248.6" y2="881.1" stroke="#1d6f75" stroke-width="1"/><line x1="265.4" y1="861.6" x2="288" y2="876.8" stroke="#1d6f75" stroke-width="0.9"/><circle cx="263.6" cy="865.2" r="4" fill="#3cc39a" opacity="0.55"/>
<polygon points="278.9,832.8 316.6,828.5 311.5,850.8 302.9,861 270.4,855" fill="#30e2e5" stroke="#1d6f75" stroke-width="1.2" fill-opacity="1" stroke-linejoin="round"/><polygon points="278.9,832.8 316.6,828.5 295.2,841.8" fill="#2cb8c0" stroke="none" stroke-width="0" fill-opacity="0.55" stroke-linejoin="round"/><line x1="316.6" y1="828.5" x2="270.4" y2="855" stroke="#1d6f75" stroke-width="1"/><circle cx="296" cy="845.6" r="4" fill="#3cc39a" opacity="0.55"/>
<polygon points="288.7,866 321.2,873.7 316.1,894.3 311,904.5 278.4,885.7" fill="#30e2e5" stroke="#1d6f75" stroke-width="1.2" fill-opacity="1" stroke-linejoin="round"/><polygon points="288.7,866 321.2,873.7 302.4,880.1" fill="#2cb8c0" stroke="none" stroke-width="0" fill-opacity="0.55" stroke-linejoin="round"/><line x1="321.2" y1="873.7" x2="278.4" y2="885.7" stroke="#1d6f75" stroke-width="1"/><circle cx="303.1" cy="884.8" r="4" fill="#3cc39a" opacity="0.55"/>
<polygon points="250.3,889.3 279.4,897.8 273.4,907.3 274.3,920.1 256.3,924.4 252,903" fill="#30e2e5" stroke="#1d6f75" stroke-width="1.2" fill-opacity="1" stroke-linejoin="round"/><polygon points="250.3,889.3 279.4,897.8 261.9,898.3" fill="#2cb8c0" stroke="none" stroke-width="0" fill-opacity="0.55" stroke-linejoin="round"/><line x1="279.4" y1="897.8" x2="252" y2="903" stroke="#1d6f75" stroke-width="1"/><circle cx="264.3" cy="907" r="4" fill="#3cc39a" opacity="0.55"/>
<polygon points="208.1,903 248.3,899.6 254.3,933.9 214.9,937.3" fill="#30e2e5" stroke="#1d6f75" stroke-width="1.2" fill-opacity="1" stroke-linejoin="round"/><polygon points="208.1,903 248.3,899.6 231.2,918.4" fill="#2cb8c0" stroke="none" stroke-width="0" fill-opacity="0.55" stroke-linejoin="round"/><line x1="248.3" y1="899.6" x2="214.9" y2="937.3" stroke="#1d6f75" stroke-width="1"/><line x1="238.2" y1="910.6" x2="254.3" y2="933.9" stroke="#1d6f75" stroke-width="0.9"/><circle cx="231.4" cy="918.4" r="4" fill="#3cc39a" opacity="0.55"/>
<polygon points="313.8,892.6 352.4,888.4 359.2,923.5 318.1,926.9" fill="#30e2e5" stroke="#1d6f75" stroke-width="1.2" fill-opacity="1" stroke-linejoin="round"/><polygon points="313.8,892.6 352.4,888.4 336.5,908.1" fill="#2cb8c0" stroke="none" stroke-width="0" fill-opacity="0.55" stroke-linejoin="round"/><line x1="352.4" y1="888.4" x2="318.1" y2="926.9" stroke="#1d6f75" stroke-width="1"/><line x1="342" y1="899.6" x2="359.2" y2="923.5" stroke="#1d6f75" stroke-width="0.9"/><circle cx="335.9" cy="907.8" r="4" fill="#3cc39a" opacity="0.55"/>
<polygon points="270.5,905.4 311.6,902 317.6,936.3 277.3,939.7" fill="#30e2e5" stroke="#1d6f75" stroke-width="1.2" fill-opacity="1" stroke-linejoin="round"/><polygon points="270.5,905.4 311.6,902 294,920.8" fill="#2cb8c0" stroke="none" stroke-width="0" fill-opacity="0.55" stroke-linejoin="round"/><line x1="311.6" y1="902" x2="277.3" y2="939.7" stroke="#1d6f75" stroke-width="1"/><line x1="301.2" y1="913" x2="317.6" y2="936.3" stroke="#1d6f75" stroke-width="0.9"/><circle cx="294.2" cy="920.8" r="4" fill="#3cc39a" opacity="0.55"/>
<line x1="252.5" y1="823.1" x2="276.5" y2="822.1" stroke="#d81010" stroke-width="2.2"/>
<ellipse cx="264.5" cy="822.6" rx="9" ry="3" fill="#1c9a1c"/><circle cx="264.5" cy="822.6" r="2.6" fill="#3ed03e"/>
<line x1="252" y1="744.2" x2="276" y2="743.2" stroke="#d81010" stroke-width="2.2"/>
<ellipse cx="264" cy="743.7" rx="9" ry="3" fill="#1c9a1c"/><circle cx="264" cy="743.7" r="2.6" fill="#3ed03e"/>
<line x1="219.2" y1="800.1" x2="243.2" y2="799.1" stroke="#d81010" stroke-width="2.2"/>
<ellipse cx="231.2" cy="799.6" rx="9" ry="3" fill="#1c9a1c"/><circle cx="231.2" cy="799.6" r="2.6" fill="#3ed03e"/>
<line x1="280.8" y1="802.9" x2="304.8" y2="801.9" stroke="#d81010" stroke-width="2.2"/>
<ellipse cx="292.8" cy="802.4" rx="9" ry="3" fill="#1c9a1c"/><circle cx="292.8" cy="802.4" r="2.6" fill="#3ed03e"/>
<line x1="321.7" y1="789.7" x2="345.7" y2="788.7" stroke="#d81010" stroke-width="2.2"/>
<ellipse cx="333.7" cy="789.2" rx="9" ry="3" fill="#1c9a1c"/><circle cx="333.7" cy="789.2" r="2.6" fill="#3ed03e"/>
<line x1="253.6" y1="902.1" x2="277.6" y2="901.1" stroke="#d81010" stroke-width="2.2"/>
<ellipse cx="265.6" cy="901.6" rx="9" ry="3" fill="#1c9a1c"/><circle cx="265.6" cy="901.6" r="2.6" fill="#3ed03e"/>
<line x1="219.2" y1="879.7" x2="243.2" y2="878.7" stroke="#d81010" stroke-width="2.2"/>
<ellipse cx="231.2" cy="879.2" rx="9" ry="3" fill="#1c9a1c"/><circle cx="231.2" cy="879.2" r="2.6" fill="#3ed03e"/>
<line x1="281.6" y1="881.3" x2="305.6" y2="880.3" stroke="#d81010" stroke-width="2.2"/>
<ellipse cx="293.6" cy="880.8" rx="9" ry="3" fill="#1c9a1c"/><circle cx="293.6" cy="880.8" r="2.6" fill="#3ed03e"/>
<line x1="322.5" y1="868.5" x2="346.5" y2="867.5" stroke="#d81010" stroke-width="2.2"/>
<ellipse cx="334.5" cy="868" rx="9" ry="3" fill="#1c9a1c"/><circle cx="334.5" cy="868" r="2.6" fill="#3ed03e"/>
<circle cx="208" cy="745.6" r="3.6" fill="#e01010"/><circle cx="206.9" cy="744.5" r="1.3" fill="#ff8080" opacity="0.7"/>
<circle cx="245.6" cy="742.4" r="3.6" fill="#e01010"/><circle cx="244.5" cy="741.3" r="1.3" fill="#ff8080" opacity="0.7"/>
<circle cx="235.2" cy="752.8" r="3.6" fill="#e01010"/><circle cx="234.1" cy="751.7" r="1.3" fill="#ff8080" opacity="0.7"/>
<circle cx="251.2" cy="775.2" r="3.6" fill="#e01010"/><circle cx="250.1" cy="774.1" r="1.3" fill="#ff8080" opacity="0.7"/>
<circle cx="214.4" cy="777.6" r="3.6" fill="#e01010"/><circle cx="213.3" cy="776.5" r="1.3" fill="#ff8080" opacity="0.7"/>
<circle cx="248.8" cy="732.8" r="3.6" fill="#e01010"/><circle cx="247.7" cy="731.7" r="1.3" fill="#ff8080" opacity="0.7"/>
<circle cx="286.4" cy="729.6" r="3.6" fill="#e01010"/><circle cx="285.4" cy="728.5" r="1.3" fill="#ff8080" opacity="0.7"/>
<circle cx="276" cy="740" r="3.6" fill="#e01010"/><circle cx="275" cy="738.9" r="1.3" fill="#ff8080" opacity="0.7"/>
<circle cx="270.4" cy="748.8" r="3.6" fill="#e01010"/><circle cx="269.4" cy="747.7" r="1.3" fill="#ff8080" opacity="0.7"/>
<circle cx="310.5" cy="744.8" r="3.6" fill="#e01010"/><circle cx="309.4" cy="743.7" r="1.3" fill="#ff8080" opacity="0.7"/>
<circle cx="297.6" cy="755.2" r="3.6" fill="#e01010"/><circle cx="296.6" cy="754.1" r="1.3" fill="#ff8080" opacity="0.7"/>
<circle cx="314.5" cy="777.6" r="3.6" fill="#e01010"/><circle cx="313.4" cy="776.5" r="1.3" fill="#ff8080" opacity="0.7"/>
<circle cx="276.8" cy="780.5" r="3.6" fill="#e01010"/><circle cx="275.8" cy="779.4" r="1.3" fill="#ff8080" opacity="0.7"/>
<circle cx="312.1" cy="735.2" r="3.6" fill="#e01010"/><circle cx="311" cy="734.1" r="1.3" fill="#ff8080" opacity="0.7"/>
<circle cx="348.9" cy="732" r="3.6" fill="#e01010"/><circle cx="347.8" cy="730.9" r="1.3" fill="#ff8080" opacity="0.7"/>
<circle cx="339.3" cy="742.4" r="3.6" fill="#e01010"/><circle cx="338.2" cy="741.3" r="1.3" fill="#ff8080" opacity="0.7"/>
<circle cx="354.5" cy="764" r="3.6" fill="#e01010"/><circle cx="353.4" cy="762.9" r="1.3" fill="#ff8080" opacity="0.7"/>
<circle cx="317.7" cy="767.2" r="3.6" fill="#e01010"/><circle cx="316.6" cy="766.1" r="1.3" fill="#ff8080" opacity="0.7"/>
<circle cx="255.2" cy="764.8" r="3.6" fill="#e01010"/><circle cx="254.1" cy="763.7" r="1.3" fill="#ff8080" opacity="0.7"/>
<circle cx="284" cy="783.2" r="3.6" fill="#e01010"/><circle cx="283" cy="782.2" r="1.3" fill="#ff8080" opacity="0.7"/>
<circle cx="273.6" cy="801.6" r="3.6" fill="#e01010"/><circle cx="272.6" cy="800.6" r="1.3" fill="#ff8080" opacity="0.7"/>
<circle cx="242.4" cy="796" r="3.6" fill="#e01010"/><circle cx="241.3" cy="795" r="1.3" fill="#ff8080" opacity="0.7"/>
<circle cx="211.2" cy="799.2" r="3.6" fill="#e01010"/><circle cx="210.1" cy="798.2" r="1.3" fill="#ff8080" opacity="0.7"/>
<circle cx="236.8" cy="804.8" r="3.6" fill="#e01010"/><circle cx="235.7" cy="803.8" r="1.3" fill="#ff8080" opacity="0.7"/>
<circle cx="315.3" cy="788.8" r="3.6" fill="#e01010"/><circle cx="314.2" cy="787.8" r="1.3" fill="#ff8080" opacity="0.7"/>
<circle cx="304.9" cy="798.4" r="3.6" fill="#e01010"/><circle cx="303.8" cy="797.4" r="1.3" fill="#ff8080" opacity="0.7"/>
<circle cx="299.2" cy="807.2" r="3.6" fill="#e01010"/><circle cx="298.2" cy="806.2" r="1.3" fill="#ff8080" opacity="0.7"/>
<circle cx="345.7" cy="785.6" r="3.6" fill="#e01010"/><circle cx="344.6" cy="784.6" r="1.3" fill="#ff8080" opacity="0.7"/>
<circle cx="340.1" cy="794.4" r="3.6" fill="#e01010"/><circle cx="339" cy="793.4" r="1.3" fill="#ff8080" opacity="0.7"/>
<circle cx="220.8" cy="821.6" r="3.6" fill="#e01010"/><circle cx="219.7" cy="820.5" r="1.3" fill="#ff8080" opacity="0.7"/>
<circle cx="252.8" cy="826.4" r="3.6" fill="#e01010"/><circle cx="251.7" cy="825.3" r="1.3" fill="#ff8080" opacity="0.7"/>
<circle cx="217.6" cy="831.2" r="3.6" fill="#e01010"/><circle cx="216.5" cy="830.1" r="1.3" fill="#ff8080" opacity="0.7"/>
<circle cx="208" cy="852.8" r="3.6" fill="#e01010"/><circle cx="206.9" cy="851.7" r="1.3" fill="#ff8080" opacity="0.7"/>
<circle cx="240" cy="857.6" r="3.6" fill="#e01010"/><circle cx="238.9" cy="856.5" r="1.3" fill="#ff8080" opacity="0.7"/>
<circle cx="283.2" cy="823.2" r="3.6" fill="#e01010"/><circle cx="282.2" cy="822.1" r="1.3" fill="#ff8080" opacity="0.7"/>
<circle cx="280" cy="833.6" r="3.6" fill="#e01010"/><circle cx="279" cy="832.5" r="1.3" fill="#ff8080" opacity="0.7"/>
<circle cx="315.3" cy="829.6" r="3.6" fill="#e01010"/><circle cx="314.2" cy="828.5" r="1.3" fill="#ff8080" opacity="0.7"/>
<circle cx="302.4" cy="860" r="3.6" fill="#e01010"/><circle cx="301.4" cy="858.9" r="1.3" fill="#ff8080" opacity="0.7"/>
<circle cx="271.2" cy="854.4" r="3.6" fill="#e01010"/><circle cx="270.2" cy="853.3" r="1.3" fill="#ff8080" opacity="0.7"/>
<circle cx="321.7" cy="821.6" r="3.6" fill="#e01010"/><circle cx="320.6" cy="820.5" r="1.3" fill="#ff8080" opacity="0.7"/>
<circle cx="344.1" cy="847.2" r="3.6" fill="#e01010"/><circle cx="343" cy="846.1" r="1.3" fill="#ff8080" opacity="0.7"/>
<circle cx="290.4" cy="866.4" r="3.6" fill="#e01010"/><circle cx="289.4" cy="865.3" r="1.3" fill="#ff8080" opacity="0.7"/>
<circle cx="287.2" cy="876.8" r="3.6" fill="#e01010"/><circle cx="286.2" cy="875.7" r="1.3" fill="#ff8080" opacity="0.7"/>
<circle cx="249.6" cy="880" r="3.6" fill="#e01010"/><circle cx="248.5" cy="878.9" r="1.3" fill="#ff8080" opacity="0.7"/>
<circle cx="219.2" cy="883.2" r="3.6" fill="#e01010"/><circle cx="218.1" cy="882.2" r="1.3" fill="#ff8080" opacity="0.7"/>
<circle cx="224.8" cy="873.6" r="3.6" fill="#e01010"/><circle cx="223.7" cy="872.5" r="1.3" fill="#ff8080" opacity="0.7"/>
<circle cx="281.6" cy="885.6" r="3.6" fill="#e01010"/><circle cx="280.6" cy="884.6" r="1.3" fill="#ff8080" opacity="0.7"/>
<circle cx="312.9" cy="882.4" r="3.6" fill="#e01010"/><circle cx="311.8" cy="881.3" r="1.3" fill="#ff8080" opacity="0.7"/>
<circle cx="328.1" cy="863.2" r="3.6" fill="#e01010"/><circle cx="327" cy="862.1" r="1.3" fill="#ff8080" opacity="0.7"/>
<circle cx="353.7" cy="868.8" r="3.6" fill="#e01010"/><circle cx="352.6" cy="867.7" r="1.3" fill="#ff8080" opacity="0.7"/>
<circle cx="322.5" cy="872.8" r="3.6" fill="#e01010"/><circle cx="321.4" cy="871.7" r="1.3" fill="#ff8080" opacity="0.7"/>
<circle cx="251.2" cy="890.4" r="3.6" fill="#e01010"/><circle cx="250.1" cy="889.4" r="1.3" fill="#ff8080" opacity="0.7"/>
<circle cx="278.4" cy="898.4" r="3.6" fill="#e01010"/><circle cx="277.4" cy="897.4" r="1.3" fill="#ff8080" opacity="0.7"/>
<circle cx="247.2" cy="900.8" r="3.6" fill="#e01010"/><circle cx="246.1" cy="899.8" r="1.3" fill="#ff8080" opacity="0.7"/>
<circle cx="209.6" cy="904" r="3.6" fill="#e01010"/><circle cx="208.5" cy="903" r="1.3" fill="#ff8080" opacity="0.7"/>
<circle cx="236.8" cy="911.2" r="3.6" fill="#e01010"/><circle cx="235.7" cy="910.2" r="1.3" fill="#ff8080" opacity="0.7"/>
<circle cx="252.8" cy="932.9" r="3.6" fill="#e01010"/><circle cx="251.7" cy="931.8" r="1.3" fill="#ff8080" opacity="0.7"/>
<circle cx="216" cy="936.1" r="3.6" fill="#e01010"/><circle cx="214.9" cy="935" r="1.3" fill="#ff8080" opacity="0.7"/>
<circle cx="272" cy="906.4" r="3.6" fill="#e01010"/><circle cx="271" cy="905.4" r="1.3" fill="#ff8080" opacity="0.7"/>
<circle cx="310.5" cy="903.2" r="3.6" fill="#e01010"/><circle cx="309.4" cy="902.2" r="1.3" fill="#ff8080" opacity="0.7"/>
<circle cx="300" cy="912.8" r="3.6" fill="#e01010"/><circle cx="299" cy="911.8" r="1.3" fill="#ff8080" opacity="0.7"/>
<circle cx="316.1" cy="935.3" r="3.6" fill="#e01010"/><circle cx="315" cy="934.2" r="1.3" fill="#ff8080" opacity="0.7"/>
<circle cx="278.4" cy="938.5" r="3.6" fill="#e01010"/><circle cx="277.4" cy="937.4" r="1.3" fill="#ff8080" opacity="0.7"/>
<circle cx="256.8" cy="923.2" r="3.6" fill="#e01010"/><circle cx="255.7" cy="922.2" r="1.3" fill="#ff8080" opacity="0.7"/>
<circle cx="351.3" cy="889.6" r="3.6" fill="#e01010"/><circle cx="350.2" cy="888.6" r="1.3" fill="#ff8080" opacity="0.7"/>
<circle cx="340.9" cy="900" r="3.6" fill="#e01010"/><circle cx="339.8" cy="899" r="1.3" fill="#ff8080" opacity="0.7"/>
<circle cx="357.7" cy="922.4" r="3.6" fill="#e01010"/><circle cx="356.6" cy="921.4" r="1.3" fill="#ff8080" opacity="0.7"/>
<circle cx="319.3" cy="925.7" r="3.6" fill="#e01010"/><circle cx="318.2" cy="924.6" r="1.3" fill="#ff8080" opacity="0.7"/>
<line x1="188.8" y1="893" x2="188.8" y2="870" stroke="#1010d0" stroke-width="2"/><polygon points="188.8,864 185,872 192.6,872" fill="#1010d0"/>
<line x1="188.8" y1="893" x2="210" y2="893" stroke="#20c020" stroke-width="2"/><polygon points="216,893 208,889.5 208,896.5" fill="#20c020"/>
<line x1="188.8" y1="893" x2="176" y2="897" stroke="#d01010" stroke-width="2"/><polygon points="170,899 177,893.5 179,899.5" fill="#d01010"/>
<circle cx="188.8" cy="893" r="2" fill="#ccc"/>
<g font-family="Liberation Sans, sans-serif" font-weight="bold" fill="#000000">
<text transform="translate(159.5,740.5) scale(0.9,1)" font-size="27" font-weight="bold" stroke="#000" stroke-width="0.7">R3c</text>
<line x1="176.5" y1="719" x2="189" y2="719" stroke="#000" stroke-width="2.4"/>
<text transform="translate(177.5,807.2) scale(0.86,1)" font-size="21.4" font-weight="bold" stroke="#000" stroke-width="0.5">B1</text>
<text transform="translate(175.5,843.7) scale(0.86,1)" font-size="21.4" font-weight="bold" stroke="#000" stroke-width="0.5">Fe1</text>
<text transform="translate(184.5,952) scale(0.9,1)" font-size="20" font-weight="bold" stroke="#000" stroke-width="0.5">O1</text>
</g>
<line x1="684.6" y1="603.7" x2="886.6" y2="572.6" stroke="#333" stroke-width="1.1" stroke-dasharray="3.5,2.5" fill="none"/>
<line x1="886.6" y1="572.6" x2="902.1" y2="662.7" stroke="#333" stroke-width="1.1" stroke-dasharray="3.5,2.5" fill="none"/>
<line x1="684.6" y1="603.7" x2="630.2" y2="678.3" stroke="#333" stroke-width="1.1" stroke-dasharray="3.5,2.5" fill="none"/>
<line x1="630.2" y1="678.3" x2="644.2" y2="766.8" stroke="#333" stroke-width="1.1" stroke-dasharray="3.5,2.5" fill="none"/>
<line x1="644.2" y1="766.8" x2="846.2" y2="732.7" stroke="#333" stroke-width="1.1" stroke-dasharray="3.5,2.5" fill="none"/>
<line x1="846.2" y1="732.7" x2="902.1" y2="662.7" stroke="#333" stroke-width="1.1" stroke-dasharray="3.5,2.5" fill="none"/>
<line x1="630.2" y1="678.3" x2="846" y2="652" stroke="#333" stroke-width="1.1" stroke-dasharray="3.5,2.5" fill="none"/>
<line x1="684.6" y1="603.7" x2="695" y2="662.4" stroke="#333" stroke-width="1.1" stroke-dasharray="3.5,2.5" fill="none"/>
<line x1="902.1" y1="662.7" x2="700" y2="690" stroke="#333" stroke-width="1.1" stroke-dasharray="3.5,2.5" fill="none"/>
<line x1="886.6" y1="572.6" x2="832" y2="650" stroke="#333" stroke-width="1.1" stroke-dasharray="3.5,2.5" fill="none"/>
<polygon points="773.5,611.2 835.6,598.4 811.6,624" fill="#2cbac2" stroke="#1b5a60" stroke-width="0.9" fill-opacity="1" stroke-linejoin="round"/>
<polygon points="835.6,598.4 850,665.8 811.6,624" fill="#2ccdd3" stroke="#1b5a60" stroke-width="0.9" fill-opacity="1" stroke-linejoin="round"/>
<polygon points="773.5,611.2 811.6,624 780.6,674.4" fill="#2ccdd3" stroke="#1b5a60" stroke-width="0.9" fill-opacity="1" stroke-linejoin="round"/>
<polygon points="811.6,624 850,665.8 780.6,674.4" fill="#2ae6e8" stroke="#1b5a60" stroke-width="0.9" fill-opacity="1" stroke-linejoin="round"/>
<polygon points="842.8,603.2 880.5,640 866,678 850,665.8" fill="#2ae6e8" stroke="#1b5a60" stroke-width="0.9" fill-opacity="1" stroke-linejoin="round"/>
<polygon points="842.8,603.2 880.5,640 850,665.8" fill="#2ccdd3" stroke="#1b5a60" stroke-width="0.9" fill-opacity="0.6" stroke-linejoin="round"/>
<polygon points="728.1,571.2 773.5,611.2 703.2,625.6" fill="#2ae6e8" stroke="#1b5a60" stroke-width="0.9" fill-opacity="1" stroke-linejoin="round"/>
<polygon points="703.2,625.6 773.5,611.2 752,668" fill="#2ccdd3" stroke="#1b5a60" stroke-width="0.9" fill-opacity="1" stroke-linejoin="round"/>
<line x1="728.1" y1="571.2" x2="742.5" y2="637.6" stroke="#1b5a60" stroke-width="0.8" opacity="0.6"/>
<polygon points="672.8,646.4 700,660 717.6,686.4 648,699.2" fill="#2ae6e8" stroke="#1b5a60" stroke-width="0.9" fill-opacity="1" stroke-linejoin="round"/>
<polygon points="648,699.2 717.6,686.4 694.4,739.2" fill="#2ae6e8" stroke="#1b5a60" stroke-width="0.9" fill-opacity="1" stroke-linejoin="round"/>
<polygon points="672.8,646.4 700,660 717.6,686.4" fill="#2ccdd3" stroke="#1b5a60" stroke-width="0.9" fill-opacity="0.5" stroke-linejoin="round"/>
<polygon points="717.6,686.4 722,672 753,681 756,728.8" fill="#2cbac2" stroke="#1b5a60" stroke-width="0.9" fill-opacity="1" stroke-linejoin="round"/>
<polygon points="717.6,686.4 756,728.8 694.4,739.2" fill="#2ae6e8" stroke="#1b5a60" stroke-width="0.9" fill-opacity="1" stroke-linejoin="round"/>
<polygon points="780.6,674.4 825.2,714.4 756,728.8" fill="#2ae6e8" stroke="#1b5a60" stroke-width="0.9" fill-opacity="1" stroke-linejoin="round"/>
<polygon points="756,728.8 825.2,714.4 802,767.3" fill="#2ae6e8" stroke="#1b5a60" stroke-width="0.9" fill-opacity="1" stroke-linejoin="round"/>
<polygon points="780.6,674.4 800,690 825.2,714.4" fill="#2ccdd3" stroke="#1b5a60" stroke-width="0.9" fill-opacity="0.5" stroke-linejoin="round"/>
<polygon points="642.4,636 703.2,625.6 664.8,657.6" fill="#4f9f4f" stroke="#2a6a2a" stroke-width="1" fill-opacity="0.93" stroke-linejoin="round"/>
<polygon points="742.5,637.6 720,680 780.6,674.4" fill="#4f9f4f" stroke="#2a6a2a" stroke-width="1" fill-opacity="0.93" stroke-linejoin="round"/>
<polygon points="648,699.2 627.2,744.8 684,735.2" fill="#4f9f4f" stroke="#2a6a2a" stroke-width="1" fill-opacity="0.93" stroke-linejoin="round"/>
<polygon points="842.8,603.2 903.7,593.6 880.5,640" fill="#4f9f4f" stroke="#2a6a2a" stroke-width="1" fill-opacity="0.93" stroke-linejoin="round"/>
<polygon points="850,665.8 825.2,714.4 887.7,702.4" fill="#4f9f4f" stroke="#2a6a2a" stroke-width="1" fill-opacity="0.93" stroke-linejoin="round"/>
<line x1="746.5" y1="665.7" x2="744.5" y2="651.7" stroke="#2b9a2b" stroke-width="4"/>
<line x1="744.5" y1="651.7" x2="742.5" y2="637.6" stroke="#e01818" stroke-width="4"/>
<line x1="746.5" y1="665.7" x2="733.2" y2="672.9" stroke="#2b9a2b" stroke-width="4"/>
<line x1="733.2" y1="672.9" x2="720" y2="680" stroke="#e01818" stroke-width="4"/>
<line x1="746.5" y1="665.7" x2="763.5" y2="670" stroke="#2b9a2b" stroke-width="4"/>
<line x1="763.5" y1="670" x2="780.6" y2="674.4" stroke="#e01818" stroke-width="4"/>
<line x1="655.2" y1="725.6" x2="651.6" y2="712.4" stroke="#2b9a2b" stroke-width="4"/>
<line x1="651.6" y1="712.4" x2="648" y2="699.2" stroke="#e01818" stroke-width="4"/>
<line x1="655.2" y1="725.6" x2="641.2" y2="735.2" stroke="#2b9a2b" stroke-width="4"/>
<line x1="641.2" y1="735.2" x2="627.2" y2="744.8" stroke="#e01818" stroke-width="4"/>
<line x1="655.2" y1="725.6" x2="669.6" y2="730.4" stroke="#2b9a2b" stroke-width="4"/>
<line x1="669.6" y1="730.4" x2="684" y2="735.2" stroke="#e01818" stroke-width="4"/>
<line x1="874.9" y1="612.8" x2="858.8" y2="608" stroke="#2b9a2b" stroke-width="4"/>
<line x1="858.8" y1="608" x2="842.8" y2="603.2" stroke="#e01818" stroke-width="4"/>
<line x1="874.9" y1="612.8" x2="889.3" y2="603.2" stroke="#2b9a2b" stroke-width="4"/>
<line x1="889.3" y1="603.2" x2="903.7" y2="593.6" stroke="#e01818" stroke-width="4"/>
<line x1="874.9" y1="612.8" x2="877.7" y2="626.4" stroke="#2b9a2b" stroke-width="4"/>
<line x1="877.7" y1="626.4" x2="880.5" y2="640" stroke="#e01818" stroke-width="4"/>
<line x1="856.4" y1="696" x2="853.2" y2="680.9" stroke="#2b9a2b" stroke-width="4"/>
<line x1="853.2" y1="680.9" x2="850" y2="665.8" stroke="#e01818" stroke-width="4"/>
<line x1="856.4" y1="696" x2="840.8" y2="705.2" stroke="#2b9a2b" stroke-width="4"/>
<line x1="840.8" y1="705.2" x2="825.2" y2="714.4" stroke="#e01818" stroke-width="4"/>
<line x1="856.4" y1="696" x2="872" y2="699.2" stroke="#2b9a2b" stroke-width="4"/>
<line x1="872" y1="699.2" x2="887.7" y2="702.4" stroke="#e01818" stroke-width="4"/>
<line x1="668" y1="645" x2="655.2" y2="640.5" stroke="#2b9a2b" stroke-width="4"/>
<line x1="655.2" y1="640.5" x2="642.4" y2="636" stroke="#e01818" stroke-width="4"/>
<line x1="668" y1="645" x2="685.6" y2="635.3" stroke="#2b9a2b" stroke-width="4"/>
<line x1="685.6" y1="635.3" x2="703.2" y2="625.6" stroke="#e01818" stroke-width="4"/>
<circle cx="746.5" cy="665.7" r="6.5" fill="#1f8f1f"/><circle cx="744.9" cy="664.1" r="3.6" fill="#30b030"/><circle cx="744.5" cy="663.4" r="1.4" fill="#b8f5b8"/>
<circle cx="655.2" cy="725.6" r="6.5" fill="#1f8f1f"/><circle cx="653.6" cy="724" r="3.6" fill="#30b030"/><circle cx="653.2" cy="723.3" r="1.4" fill="#b8f5b8"/>
<circle cx="874.9" cy="612.8" r="6.5" fill="#1f8f1f"/><circle cx="873.3" cy="611.2" r="3.6" fill="#30b030"/><circle cx="872.9" cy="610.5" r="1.4" fill="#b8f5b8"/>
<circle cx="856.4" cy="696" r="6.5" fill="#1f8f1f"/><circle cx="854.8" cy="694.4" r="3.6" fill="#30b030"/><circle cx="854.4" cy="693.7" r="1.4" fill="#b8f5b8"/>
<circle cx="728.1" cy="571.2" r="7.2" fill="#e01010"/><circle cx="726.3" cy="569.4" r="4" fill="#f23a3a"/><circle cx="725.9" cy="568.7" r="1.6" fill="#ff9a9a"/>
<circle cx="773.5" cy="611.2" r="7.2" fill="#e01010"/><circle cx="771.7" cy="609.4" r="4" fill="#f23a3a"/><circle cx="771.3" cy="608.7" r="1.6" fill="#ff9a9a"/>
<circle cx="703.2" cy="625.6" r="7.2" fill="#e01010"/><circle cx="701.4" cy="623.8" r="4" fill="#f23a3a"/><circle cx="701" cy="623.1" r="1.6" fill="#ff9a9a"/>
<circle cx="811.6" cy="624" r="7.2" fill="#e01010"/><circle cx="809.8" cy="622.2" r="4" fill="#f23a3a"/><circle cx="809.4" cy="621.5" r="1.6" fill="#ff9a9a"/>
<circle cx="835.6" cy="598.4" r="7.2" fill="#e01010"/><circle cx="833.8" cy="596.6" r="4" fill="#f23a3a"/><circle cx="833.4" cy="595.9" r="1.6" fill="#ff9a9a"/>
<circle cx="842.8" cy="603.2" r="7.2" fill="#e01010"/><circle cx="841" cy="601.4" r="4" fill="#f23a3a"/><circle cx="840.6" cy="600.7" r="1.6" fill="#ff9a9a"/>
<circle cx="903.7" cy="593.6" r="7.2" fill="#e01010"/><circle cx="901.9" cy="591.8" r="4" fill="#f23a3a"/><circle cx="901.5" cy="591.1" r="1.6" fill="#ff9a9a"/>
<circle cx="880.5" cy="640" r="7.2" fill="#e01010"/><circle cx="878.7" cy="638.2" r="4" fill="#f23a3a"/><circle cx="878.3" cy="637.5" r="1.6" fill="#ff9a9a"/>
<circle cx="850" cy="665.8" r="7.2" fill="#e01010"/><circle cx="848.2" cy="664" r="4" fill="#f23a3a"/><circle cx="847.8" cy="663.3" r="1.6" fill="#ff9a9a"/>
<circle cx="780.6" cy="674.4" r="7.2" fill="#e01010"/><circle cx="778.8" cy="672.6" r="4" fill="#f23a3a"/><circle cx="778.4" cy="671.9" r="1.6" fill="#ff9a9a"/>
<circle cx="742.5" cy="637.6" r="7.2" fill="#e01010"/><circle cx="740.7" cy="635.8" r="4" fill="#f23a3a"/><circle cx="740.3" cy="635.1" r="1.6" fill="#ff9a9a"/>
<circle cx="642.4" cy="636" r="7.2" fill="#e01010"/><circle cx="640.6" cy="634.2" r="4" fill="#f23a3a"/><circle cx="640.2" cy="633.5" r="1.6" fill="#ff9a9a"/>
<circle cx="672.8" cy="646.4" r="7.2" fill="#e01010"/><circle cx="671" cy="644.6" r="4" fill="#f23a3a"/><circle cx="670.6" cy="643.9" r="1.6" fill="#ff9a9a"/>
<circle cx="717.6" cy="686.4" r="7.2" fill="#e01010"/><circle cx="715.8" cy="684.6" r="4" fill="#f23a3a"/><circle cx="715.4" cy="683.9" r="1.6" fill="#ff9a9a"/>
<circle cx="648" cy="699.2" r="7.2" fill="#e01010"/><circle cx="646.2" cy="697.4" r="4" fill="#f23a3a"/><circle cx="645.8" cy="696.7" r="1.6" fill="#ff9a9a"/>
<circle cx="627.2" cy="744.8" r="7.2" fill="#e01010"/><circle cx="625.4" cy="743" r="4" fill="#f23a3a"/><circle cx="625" cy="742.3" r="1.6" fill="#ff9a9a"/>
<circle cx="694.4" cy="739.2" r="7.2" fill="#e01010"/><circle cx="692.6" cy="737.4" r="4" fill="#f23a3a"/><circle cx="692.2" cy="736.7" r="1.6" fill="#ff9a9a"/>
<circle cx="756" cy="728.8" r="7.2" fill="#e01010"/><circle cx="754.2" cy="727" r="4" fill="#f23a3a"/><circle cx="753.8" cy="726.3" r="1.6" fill="#ff9a9a"/>
<circle cx="825.2" cy="714.4" r="7.2" fill="#e01010"/><circle cx="823.4" cy="712.6" r="4" fill="#f23a3a"/><circle cx="823" cy="711.9" r="1.6" fill="#ff9a9a"/>
<circle cx="887.7" cy="702.4" r="7.2" fill="#e01010"/><circle cx="885.9" cy="700.6" r="4" fill="#f23a3a"/><circle cx="885.5" cy="699.9" r="1.6" fill="#ff9a9a"/>
<circle cx="802" cy="767.3" r="7.2" fill="#e01010"/><circle cx="800.2" cy="765.5" r="4" fill="#f23a3a"/><circle cx="799.8" cy="764.8" r="1.6" fill="#ff9a9a"/>
<line x1="668.8" y1="588.8" x2="666" y2="568" stroke="#20b020" stroke-width="2.6"/><polygon points="665.4,561 661,570 670.5,569.5" fill="#20b020"/>
<line x1="668.8" y1="588.8" x2="696" y2="585" stroke="#e02020" stroke-width="2.6"/><polygon points="704,583.5 695,580 696,589.5" fill="#e02020"/>
<line x1="668.8" y1="588.8" x2="657" y2="603" stroke="#1010e0" stroke-width="2.6"/><polygon points="652,610.5 653,600.5 661,606" fill="#1010e0"/>
<circle cx="668.8" cy="588.8" r="3.2" fill="#d8d8d8" stroke="#999" stroke-width="0.6"/>
<g font-family="Liberation Sans, sans-serif" font-size="6" fill="#222"><text x="711" y="585">a</text><text x="664.5" y="556">b</text><text x="647" y="616">c</text></g>
<g font-family="Liberation Sans, sans-serif" fill="#000">
<text transform="translate(782.5,718.5) scale(0.8,1)" font-size="14.5" font-weight="bold">Fe1</text>
<text transform="translate(849,700.3) scale(0.8,1)" font-size="14.5" font-weight="bold">B1</text>
<text transform="translate(824,736) scale(0.8,1)" font-size="14.5" font-weight="bold">O1</text>
<text transform="translate(893.5,725) scale(0.8,1)" font-size="14.5" font-weight="bold">O2</text>
<text transform="translate(863.5,775.3) scale(0.76,1)" font-size="33.5" font-weight="bold" stroke="#000" stroke-width="0.8">C2/c</text>
</g>
</svg>
</body></html>
